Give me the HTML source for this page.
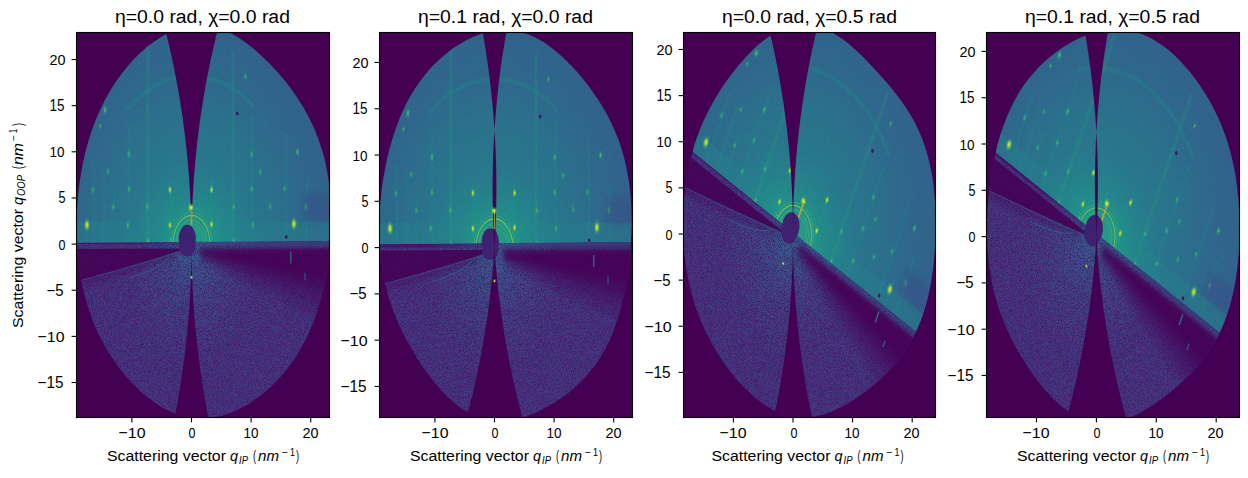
<!DOCTYPE html><html><head><meta charset="utf-8"><style>html,body{margin:0;padding:0;background:#fff;overflow:hidden;}svg{display:block;}text{font-family:"Liberation Sans",sans-serif;fill:#000;}</style></head><body>
<svg width="1248" height="478" viewBox="0 0 1248 478">
<rect width="1248" height="478" fill="#fff"/>
<defs><clipPath id="ax0"><rect x="77" y="33" width="252" height="384"/></clipPath><clipPath id="cov0"><path d="M76.6,223.7 C76.7,219.4 76.8,215.2 77.0,211.0 C77.2,206.8 77.5,202.6 77.9,198.4 C78.2,194.3 78.7,190.1 79.2,186.0 C79.7,181.9 80.3,177.7 81.0,173.7 C81.7,169.6 82.5,165.5 83.3,161.5 C84.2,157.5 85.1,153.5 86.1,149.6 C87.1,145.7 88.2,141.8 89.4,138.0 C90.6,134.1 91.9,130.4 93.2,126.7 C94.6,123.0 96.0,119.3 97.5,115.8 C99.0,112.3 100.6,108.8 102.3,105.4 C103.9,102.0 105.7,98.7 107.5,95.5 C109.3,92.2 111.2,89.1 113.1,86.1 C115.0,83.0 117.0,80.1 119.1,77.2 C121.2,74.4 123.3,71.6 125.5,68.9 C127.6,66.3 129.8,63.7 132.1,61.2 C134.4,58.7 136.7,56.4 139.1,54.1 C141.5,51.8 143.9,49.7 146.3,47.6 C148.8,45.5 151.3,43.6 153.9,41.8 C156.4,40.0 159.0,38.3 161.7,36.7 C164.3,35.2 167.0,33.8 169.7,32.5 C172.4,31.3 175.1,30.2 177.9,29.2 C180.6,28.3 183.4,27.5 186.2,27.0 C189.0,26.4 191.9,26.0 194.7,25.8 C197.5,25.6 200.4,25.6 203.2,25.8 C206.0,25.9 208.9,26.3 211.7,26.8 C214.4,27.4 217.2,28.1 220.0,29.0 C222.7,29.9 225.4,31.0 228.1,32.2 C230.8,33.4 233.5,34.8 236.1,36.3 C238.7,37.8 241.2,39.5 243.8,41.2 C246.3,43.0 248.7,44.8 251.2,46.8 C253.6,48.7 256.0,50.8 258.4,52.9 C260.7,54.9 263.0,57.1 265.3,59.4 C267.6,61.6 269.8,63.9 272.1,66.2 C274.3,68.6 276.5,71.0 278.6,73.5 C280.8,76.0 282.9,78.5 285.1,81.1 C287.2,83.7 289.2,86.4 291.3,89.2 C293.3,91.9 295.3,94.8 297.3,97.7 C299.2,100.6 301.1,103.6 303.0,106.7 C304.8,109.8 306.6,113.1 308.4,116.4 C310.1,119.7 311.7,123.1 313.3,126.6 C314.9,130.1 316.4,133.7 317.7,137.4 C319.1,141.1 320.4,144.9 321.6,148.8 C322.8,152.6 323.9,156.6 324.9,160.6 C325.8,164.6 326.7,168.7 327.4,172.8 C328.2,176.9 328.8,181.1 329.4,185.3 C329.9,189.5 330.3,193.8 330.7,198.0 C331.0,202.3 331.2,206.5 331.3,210.8 C331.5,215.1 331.5,219.4 331.4,223.7 C331.4,227.9 331.2,232.2 331.0,236.4 C330.7,240.7 330.4,244.9 330.0,249.1 C329.6,253.4 329.1,257.6 328.5,261.7 C328.0,265.9 327.3,270.0 326.6,274.1 C325.8,278.2 325.0,282.3 324.1,286.3 C323.2,290.4 322.2,294.4 321.2,298.3 C320.1,302.2 319.0,306.1 317.7,309.9 C316.5,313.7 315.2,317.5 313.8,321.1 C312.4,324.8 310.9,328.4 309.3,331.9 C307.7,335.4 306.1,338.8 304.3,342.1 C302.6,345.5 300.8,348.7 298.9,351.8 C297.0,354.9 295.1,358.0 293.1,360.9 C291.1,363.8 289.0,366.6 286.9,369.3 C284.7,372.0 282.5,374.6 280.3,377.1 C278.1,379.6 275.8,382.0 273.5,384.2 C271.1,386.5 268.8,388.7 266.4,390.8 C264.0,392.8 261.5,394.8 259.1,396.6 C256.6,398.5 254.1,400.3 251.6,401.9 C249.0,403.6 246.5,405.1 243.9,406.6 C241.3,408.0 238.6,409.3 236.0,410.5 C233.3,411.7 230.7,412.8 228.0,413.8 C225.3,414.7 222.5,415.5 219.8,416.2 C217.1,416.8 214.3,417.4 211.5,417.7 C208.8,418.1 206.0,418.3 203.2,418.4 C200.4,418.4 197.6,418.3 194.9,418.1 C192.1,417.8 189.3,417.4 186.6,416.8 C183.8,416.2 181.1,415.4 178.3,414.5 C175.6,413.6 172.9,412.6 170.3,411.4 C167.6,410.2 165.0,408.8 162.4,407.4 C159.8,405.9 157.2,404.3 154.7,402.5 C152.2,400.8 149.7,398.9 147.2,397.0 C144.8,395.0 142.4,393.0 140.0,390.8 C137.6,388.6 135.3,386.4 133.0,384.0 C130.8,381.6 128.5,379.2 126.3,376.6 C124.1,374.1 122.0,371.4 119.9,368.7 C117.8,366.0 115.7,363.2 113.8,360.2 C111.8,357.3 109.8,354.3 107.9,351.2 C106.1,348.1 104.3,344.9 102.5,341.6 C100.8,338.4 99.1,335.0 97.5,331.5 C95.9,328.0 94.4,324.5 93.0,320.9 C91.5,317.2 90.2,313.5 88.9,309.7 C87.7,305.9 86.5,302.1 85.5,298.1 C84.4,294.2 83.4,290.2 82.5,286.2 C81.7,282.2 80.9,278.1 80.2,274.0 C79.6,269.8 79.0,265.7 78.5,261.5 C78.0,257.4 77.6,253.2 77.3,248.9 C77.1,244.7 76.9,240.5 76.7,236.3 C76.6,232.1 76.6,227.9 76.6,223.7Z"/></clipPath><clipPath id="qU0" clipPathUnits="userSpaceOnUse"><path d="M-40,0.075 L40,0.395 L40,40 L-40,40Z"/></clipPath><clipPath id="qL0" clipPathUnits="userSpaceOnUse"><path d="M-40,0.075 L40,0.395 L40,-40 L-40,-40Z"/></clipPath><radialGradient id="broadU0" gradientUnits="userSpaceOnUse" cx="0" cy="0" r="26"><stop offset="0" stop-color="#23898d" stop-opacity="1"/><stop offset="0.55" stop-color="#287a8e" stop-opacity="0.7"/><stop offset="1" stop-color="#30688d" stop-opacity="0"/></radialGradient><radialGradient id="glowU0" cx="0.5" cy="0.5" r="0.5"><stop offset="0" stop-color="#22a784" stop-opacity="1"/><stop offset="0.3" stop-color="#219989" stop-opacity="0.9"/><stop offset="0.65" stop-color="#228b8c" stop-opacity="0.55"/><stop offset="1" stop-color="#25828d" stop-opacity="0"/></radialGradient><radialGradient id="glowL0" gradientUnits="userSpaceOnUse" cx="0" cy="-1" r="12"><stop offset="0" stop-color="#345e8d" stop-opacity="1"/><stop offset="0.5" stop-color="#3e4888" stop-opacity="0.5"/><stop offset="1" stop-color="#423d83" stop-opacity="0"/></radialGradient><radialGradient id="spot0"><stop offset="0" stop-color="#fde724" stop-opacity="1"/><stop offset="0.3" stop-color="#bdde26" stop-opacity="0.9"/><stop offset="0.65" stop-color="#44be70" stop-opacity="0.4"/><stop offset="1" stop-color="#22a784" stop-opacity="0"/></radialGradient><radialGradient id="spotG0"><stop offset="0" stop-color="#79d151" stop-opacity="1"/><stop offset="0.3" stop-color="#44be70" stop-opacity="0.8"/><stop offset="0.65" stop-color="#22a784" stop-opacity="0.35"/><stop offset="1" stop-color="#20908c" stop-opacity="0"/></radialGradient><linearGradient id="rodg0" gradientUnits="objectBoundingBox" x1="0" y1="0" x2="0" y2="1"><stop offset="0" stop-color="#fff" stop-opacity="1"/><stop offset="1" stop-color="#fff" stop-opacity="0.2"/></linearGradient><filter id="blur0" x="-50%" y="-50%" width="200%" height="200%"><feGaussianBlur stdDeviation="0.35"/></filter><filter id="blurS0" x="-100%" y="-5%" width="300%" height="110%"><feGaussianBlur stdDeviation="0.2"/></filter><filter id="nz0" x="0" y="0" width="100%" height="100%" filterUnits="objectBoundingBox" color-interpolation-filters="sRGB"><feTurbulence type="fractalNoise" baseFrequency="1.3" numOctaves="1" seed="2" result="t"/><feColorMatrix in="t" type="matrix" values="0 0 0 0 0.22  0 0 0 0 0.37  0 0 0 0 0.55  2.4 0 0 0 -1.05" result="hi"/><feColorMatrix in="t" type="matrix" values="0 0 0 0 0.27  0 0 0 0 0.0  0 0 0 0 0.33  -2.4 0 0 0 1.3" result="lo"/><feMerge><feMergeNode in="lo"/><feMergeNode in="hi"/></feMerge></filter><radialGradient id="mg0" gradientUnits="userSpaceOnUse" cx="0" cy="-2" r="12"><stop offset="0" stop-color="#fff" stop-opacity="0.8"/><stop offset="1" stop-color="#fff" stop-opacity="0"/></radialGradient><mask id="lm0" maskUnits="userSpaceOnUse" x="76" y="32" width="253" height="385"><g transform="matrix(5.9600,0.0000,0.0000,-9.2290,191.5,244.1)"><g clip-path="url(#qL0)"><rect x="-40" y="-40" width="80" height="40" fill="#9c9c9c"/><ellipse cx="0" cy="-4" rx="17" ry="17" fill="url(#mg0)"/></g><rect x="-40" y="0" width="80" height="40" fill="#fff" opacity="0.12"/></g></mask><clipPath id="ax1"><rect x="380" y="33" width="252" height="384"/></clipPath><clipPath id="cov1"><path d="M379.2,225.0 C379.3,220.8 379.4,216.6 379.7,212.4 C379.9,208.3 380.2,204.1 380.6,200.0 C381.0,195.9 381.5,191.7 382.0,187.6 C382.6,183.5 383.2,179.5 383.9,175.4 C384.6,171.4 385.3,167.4 386.2,163.4 C387.0,159.4 387.9,155.5 388.9,151.6 C389.9,147.6 391.0,143.8 392.1,139.9 C393.2,136.1 394.5,132.4 395.8,128.7 C397.1,125.0 398.5,121.3 399.9,117.8 C401.4,114.2 402.9,110.7 404.6,107.3 C406.2,103.9 407.9,100.6 409.7,97.4 C411.5,94.2 413.4,91.1 415.4,88.1 C417.3,85.1 419.3,82.2 421.4,79.4 C423.5,76.6 425.6,73.9 427.8,71.4 C430.0,68.8 432.3,66.4 434.6,64.0 C436.9,61.7 439.2,59.5 441.6,57.4 C444.0,55.3 446.5,53.3 448.9,51.4 C451.4,49.5 453.9,47.7 456.5,46.1 C459.0,44.4 461.6,42.8 464.2,41.4 C466.8,40.0 469.4,38.6 472.1,37.5 C474.8,36.3 477.5,35.2 480.2,34.3 C482.9,33.4 485.6,32.6 488.4,31.9 C491.1,31.3 493.9,30.8 496.6,30.5 C499.4,30.2 502.2,30.0 505.0,30.1 C507.8,30.1 510.6,30.3 513.3,30.7 C516.1,31.1 518.9,31.6 521.6,32.4 C524.3,33.1 527.1,34.0 529.7,35.1 C532.4,36.1 535.1,37.4 537.7,38.8 C540.3,40.1 542.8,41.7 545.4,43.3 C547.9,45.0 550.4,46.8 552.8,48.7 C555.2,50.6 557.6,52.6 560.0,54.7 C562.3,56.8 564.6,59.0 566.9,61.2 C569.2,63.5 571.4,65.8 573.6,68.2 C575.8,70.6 578.0,73.0 580.1,75.5 C582.2,78.1 584.3,80.6 586.4,83.3 C588.4,85.9 590.4,88.6 592.4,91.4 C594.4,94.2 596.4,97.1 598.3,100.0 C600.2,103.0 602.1,106.0 603.9,109.1 C605.7,112.2 607.5,115.4 609.2,118.7 C610.8,122.0 612.5,125.4 614.0,128.9 C615.5,132.4 617.0,135.9 618.4,139.6 C619.7,143.3 621.0,147.1 622.1,150.9 C623.3,154.7 624.3,158.7 625.3,162.7 C626.2,166.6 627.0,170.7 627.7,174.8 C628.5,178.8 629.1,183.0 629.6,187.2 C630.1,191.3 630.5,195.5 630.8,199.7 C631.1,203.9 631.3,208.1 631.4,212.3 C631.5,216.6 631.5,220.8 631.5,225.0 C631.4,229.2 631.3,233.4 631.1,237.6 C630.9,241.8 630.7,246.0 630.3,250.2 C630.0,254.4 629.6,258.6 629.1,262.7 C628.7,266.9 628.1,271.0 627.5,275.1 C626.9,279.3 626.2,283.4 625.5,287.5 C624.7,291.6 623.9,295.6 623.0,299.6 C622.0,303.6 621.0,307.6 619.9,311.6 C618.8,315.5 617.6,319.4 616.3,323.1 C615.0,326.9 613.6,330.7 612.1,334.3 C610.6,337.9 609.0,341.4 607.2,344.8 C605.5,348.2 603.7,351.6 601.9,354.7 C600.0,357.9 598.0,361.0 595.9,363.9 C593.9,366.8 591.7,369.6 589.5,372.2 C587.3,374.9 585.1,377.4 582.8,379.8 C580.5,382.2 578.1,384.5 575.7,386.6 C573.3,388.8 570.9,390.8 568.4,392.8 C566.0,394.7 563.5,396.5 561.0,398.3 C558.4,400.0 555.9,401.7 553.3,403.3 C550.8,404.8 548.2,406.3 545.6,407.7 C543.0,409.1 540.4,410.5 537.8,411.7 C535.1,412.9 532.4,414.1 529.8,415.1 C527.1,416.1 524.4,417.1 521.6,417.9 C518.9,418.7 516.1,419.4 513.4,419.9 C510.6,420.4 507.8,420.8 505.0,421.0 C502.2,421.2 499.4,421.2 496.6,421.1 C493.8,420.9 491.0,420.6 488.2,420.0 C485.4,419.5 482.6,418.8 479.9,417.9 C477.2,416.9 474.4,415.8 471.8,414.5 C469.1,413.2 466.4,411.7 463.9,410.1 C461.3,408.4 458.8,406.6 456.3,404.6 C453.8,402.7 451.4,400.5 449.0,398.3 C446.7,396.1 444.4,393.7 442.1,391.3 C439.9,388.9 437.7,386.4 435.6,383.8 C433.4,381.2 431.3,378.5 429.3,375.8 C427.2,373.0 425.2,370.2 423.3,367.4 C421.3,364.5 419.4,361.6 417.5,358.7 C415.6,355.7 413.8,352.7 411.9,349.6 C410.1,346.6 408.4,343.5 406.7,340.3 C404.9,337.1 403.3,333.8 401.7,330.5 C400.1,327.1 398.5,323.7 397.0,320.2 C395.5,316.8 394.1,313.2 392.8,309.6 C391.4,305.9 390.2,302.2 389.0,298.4 C387.8,294.6 386.8,290.7 385.8,286.8 C384.8,282.9 384.0,278.9 383.2,274.9 C382.5,270.8 381.8,266.7 381.3,262.6 C380.7,258.5 380.3,254.3 380.0,250.1 C379.6,246.0 379.4,241.8 379.3,237.6 C379.2,233.4 379.1,229.2 379.2,225.0Z"/></clipPath><clipPath id="qU1" clipPathUnits="userSpaceOnUse"><path d="M-40,0.230 L40,0.710 L40,40 L-40,40Z"/></clipPath><clipPath id="qL1" clipPathUnits="userSpaceOnUse"><path d="M-40,0.230 L40,0.710 L40,-40 L-40,-40Z"/></clipPath><radialGradient id="broadU1" gradientUnits="userSpaceOnUse" cx="0" cy="0" r="26"><stop offset="0" stop-color="#23898d" stop-opacity="1"/><stop offset="0.55" stop-color="#287a8e" stop-opacity="0.7"/><stop offset="1" stop-color="#30688d" stop-opacity="0"/></radialGradient><radialGradient id="glowU1" cx="0.5" cy="0.5" r="0.5"><stop offset="0" stop-color="#22a784" stop-opacity="1"/><stop offset="0.3" stop-color="#219989" stop-opacity="0.9"/><stop offset="0.65" stop-color="#228b8c" stop-opacity="0.55"/><stop offset="1" stop-color="#25828d" stop-opacity="0"/></radialGradient><radialGradient id="glowL1" gradientUnits="userSpaceOnUse" cx="0" cy="-1" r="12"><stop offset="0" stop-color="#345e8d" stop-opacity="1"/><stop offset="0.5" stop-color="#3e4888" stop-opacity="0.5"/><stop offset="1" stop-color="#423d83" stop-opacity="0"/></radialGradient><radialGradient id="spot1"><stop offset="0" stop-color="#fde724" stop-opacity="1"/><stop offset="0.3" stop-color="#bdde26" stop-opacity="0.9"/><stop offset="0.65" stop-color="#44be70" stop-opacity="0.4"/><stop offset="1" stop-color="#22a784" stop-opacity="0"/></radialGradient><radialGradient id="spotG1"><stop offset="0" stop-color="#79d151" stop-opacity="1"/><stop offset="0.3" stop-color="#44be70" stop-opacity="0.8"/><stop offset="0.65" stop-color="#22a784" stop-opacity="0.35"/><stop offset="1" stop-color="#20908c" stop-opacity="0"/></radialGradient><linearGradient id="rodg1" gradientUnits="objectBoundingBox" x1="0" y1="0" x2="0" y2="1"><stop offset="0" stop-color="#fff" stop-opacity="1"/><stop offset="1" stop-color="#fff" stop-opacity="0.2"/></linearGradient><filter id="blur1" x="-50%" y="-50%" width="200%" height="200%"><feGaussianBlur stdDeviation="0.35"/></filter><filter id="blurS1" x="-100%" y="-5%" width="300%" height="110%"><feGaussianBlur stdDeviation="0.2"/></filter><filter id="nz1" x="0" y="0" width="100%" height="100%" filterUnits="objectBoundingBox" color-interpolation-filters="sRGB"><feTurbulence type="fractalNoise" baseFrequency="1.3" numOctaves="1" seed="3" result="t"/><feColorMatrix in="t" type="matrix" values="0 0 0 0 0.22  0 0 0 0 0.37  0 0 0 0 0.55  2.4 0 0 0 -1.05" result="hi"/><feColorMatrix in="t" type="matrix" values="0 0 0 0 0.27  0 0 0 0 0.0  0 0 0 0 0.33  -2.4 0 0 0 1.3" result="lo"/><feMerge><feMergeNode in="lo"/><feMergeNode in="hi"/></feMerge></filter><radialGradient id="mg1" gradientUnits="userSpaceOnUse" cx="0" cy="-2" r="12"><stop offset="0" stop-color="#fff" stop-opacity="0.8"/><stop offset="1" stop-color="#fff" stop-opacity="0"/></radialGradient><mask id="lm1" maskUnits="userSpaceOnUse" x="379" y="32" width="253" height="385"><g transform="matrix(5.9600,0.0000,0.0000,-9.2570,494.5,247.6)"><g clip-path="url(#qL1)"><rect x="-40" y="-40" width="80" height="40" fill="#9c9c9c"/><ellipse cx="0" cy="-4" rx="17" ry="17" fill="url(#mg1)"/></g><rect x="-40" y="0" width="80" height="40" fill="#fff" opacity="0.12"/></g></mask><clipPath id="ax2"><rect x="684" y="33" width="251" height="384"/></clipPath><clipPath id="cov2"><path d="M683.1,223.5 C683.2,219.4 683.3,215.2 683.5,211.1 C683.7,207.0 683.9,202.8 684.3,198.7 C684.7,194.6 685.1,190.5 685.6,186.5 C686.2,182.4 686.8,178.3 687.5,174.3 C688.2,170.4 689.0,166.4 689.9,162.5 C690.8,158.6 691.8,154.7 692.9,150.9 C693.9,147.1 695.1,143.3 696.3,139.6 C697.6,135.9 698.9,132.3 700.3,128.8 C701.7,125.2 703.2,121.8 704.8,118.4 C706.4,115.0 708.0,111.6 709.7,108.4 C711.4,105.2 713.2,102.0 715.0,98.9 C716.8,95.8 718.6,92.8 720.5,89.9 C722.4,86.9 724.4,84.0 726.4,81.2 C728.4,78.4 730.5,75.6 732.5,72.9 C734.6,70.2 736.7,67.5 738.9,64.9 C741.1,62.3 743.3,59.8 745.6,57.4 C747.8,54.9 750.1,52.5 752.5,50.2 C754.9,47.9 757.3,45.7 759.8,43.6 C762.3,41.5 764.8,39.5 767.4,37.7 C770.0,35.9 772.6,34.2 775.3,32.7 C778.0,31.2 780.8,29.9 783.5,28.8 C786.3,27.7 789.2,26.8 792.0,26.1 C794.8,25.5 797.7,25.0 800.6,24.8 C803.5,24.7 806.4,24.7 809.2,25.0 C812.1,25.3 815.0,25.9 817.8,26.6 C820.6,27.4 823.5,28.4 826.2,29.6 C828.9,30.7 831.7,32.2 834.3,33.7 C837.0,35.2 839.6,37.0 842.1,38.8 C844.6,40.6 847.1,42.6 849.5,44.6 C852.0,46.7 854.3,48.8 856.7,51.0 C859.0,53.1 861.3,55.4 863.5,57.6 C865.8,59.9 868.0,62.2 870.2,64.5 C872.4,66.8 874.5,69.1 876.7,71.4 C878.8,73.8 881.0,76.1 883.1,78.5 C885.2,80.9 887.3,83.3 889.4,85.8 C891.5,88.3 893.6,90.8 895.6,93.4 C897.7,96.0 899.7,98.6 901.7,101.4 C903.7,104.1 905.6,107.0 907.5,109.9 C909.4,112.9 911.2,115.9 913.0,119.1 C914.7,122.3 916.4,125.6 917.9,129.0 C919.5,132.3 921.0,135.9 922.4,139.4 C923.8,143.0 925.0,146.8 926.2,150.5 C927.3,154.3 928.4,158.2 929.3,162.1 C930.2,166.0 931.0,170.0 931.8,174.1 C932.5,178.1 933.1,182.2 933.6,186.2 C934.1,190.3 934.5,194.5 934.8,198.6 C935.1,202.7 935.3,206.9 935.5,211.0 C935.6,215.2 935.7,219.3 935.7,223.5 C935.7,227.7 935.7,231.8 935.5,236.0 C935.4,240.1 935.2,244.3 934.9,248.4 C934.6,252.6 934.3,256.7 933.9,260.9 C933.5,265.0 933.0,269.1 932.4,273.2 C931.8,277.3 931.1,281.4 930.4,285.4 C929.6,289.5 928.8,293.5 927.8,297.5 C926.8,301.4 925.8,305.4 924.6,309.2 C923.4,313.0 922.1,316.8 920.7,320.4 C919.3,324.1 917.8,327.7 916.2,331.1 C914.6,334.6 912.8,337.9 911.0,341.2 C909.2,344.4 907.3,347.5 905.4,350.5 C903.4,353.5 901.3,356.3 899.2,359.0 C897.1,361.7 894.9,364.3 892.7,366.8 C890.5,369.3 888.2,371.7 885.9,374.0 C883.6,376.3 881.3,378.5 878.9,380.6 C876.6,382.7 874.2,384.7 871.8,386.6 C869.4,388.6 866.9,390.5 864.5,392.3 C862.1,394.1 859.6,395.8 857.1,397.5 C854.6,399.2 852.1,400.9 849.6,402.4 C847.0,403.9 844.5,405.4 841.9,406.8 C839.2,408.2 836.6,409.5 834.0,410.7 C831.3,411.8 828.6,412.9 825.9,413.8 C823.2,414.7 820.4,415.5 817.6,416.1 C814.9,416.7 812.1,417.2 809.2,417.4 C806.4,417.7 803.6,417.8 800.8,417.6 C798.0,417.5 795.2,417.2 792.4,416.7 C789.6,416.2 786.8,415.5 784.0,414.6 C781.3,413.7 778.5,412.6 775.9,411.3 C773.2,410.0 770.5,408.6 767.9,407.0 C765.3,405.4 762.7,403.7 760.2,401.8 C757.7,399.9 755.3,397.9 752.9,395.8 C750.4,393.7 748.1,391.4 745.8,389.1 C743.5,386.8 741.2,384.4 739.0,381.9 C736.8,379.4 734.6,376.9 732.5,374.2 C730.4,371.6 728.3,368.9 726.3,366.1 C724.2,363.3 722.2,360.4 720.3,357.5 C718.4,354.6 716.5,351.6 714.7,348.5 C712.8,345.4 711.1,342.2 709.4,339.0 C707.6,335.8 706.0,332.4 704.4,329.0 C702.8,325.6 701.3,322.2 699.9,318.6 C698.5,315.0 697.2,311.4 695.9,307.7 C694.7,304.0 693.5,300.2 692.4,296.4 C691.3,292.6 690.4,288.7 689.5,284.8 C688.6,280.8 687.8,276.8 687.1,272.8 C686.4,268.8 685.8,264.7 685.3,260.6 C684.8,256.6 684.4,252.4 684.1,248.3 C683.7,244.2 683.5,240.1 683.4,235.9 C683.2,231.8 683.1,227.6 683.1,223.5Z"/></clipPath><clipPath id="qU2" clipPathUnits="userSpaceOnUse"><path d="M-40,0.140 L40,0.140 L40,40 L-40,40Z"/></clipPath><clipPath id="qL2" clipPathUnits="userSpaceOnUse"><path d="M-40,0.140 L40,0.140 L40,-40 L-40,-40Z"/></clipPath><radialGradient id="broadU2" gradientUnits="userSpaceOnUse" cx="0" cy="0" r="26"><stop offset="0" stop-color="#23898d" stop-opacity="1"/><stop offset="0.55" stop-color="#287a8e" stop-opacity="0.7"/><stop offset="1" stop-color="#30688d" stop-opacity="0"/></radialGradient><radialGradient id="glowU2" cx="0.5" cy="0.5" r="0.5"><stop offset="0" stop-color="#22a784" stop-opacity="1"/><stop offset="0.3" stop-color="#219989" stop-opacity="0.9"/><stop offset="0.65" stop-color="#228b8c" stop-opacity="0.55"/><stop offset="1" stop-color="#25828d" stop-opacity="0"/></radialGradient><radialGradient id="glowL2" gradientUnits="userSpaceOnUse" cx="0" cy="-1" r="12"><stop offset="0" stop-color="#345e8d" stop-opacity="1"/><stop offset="0.5" stop-color="#3e4888" stop-opacity="0.5"/><stop offset="1" stop-color="#423d83" stop-opacity="0"/></radialGradient><radialGradient id="spot2"><stop offset="0" stop-color="#fde724" stop-opacity="1"/><stop offset="0.3" stop-color="#bdde26" stop-opacity="0.9"/><stop offset="0.65" stop-color="#44be70" stop-opacity="0.4"/><stop offset="1" stop-color="#22a784" stop-opacity="0"/></radialGradient><radialGradient id="spotG2"><stop offset="0" stop-color="#79d151" stop-opacity="1"/><stop offset="0.3" stop-color="#44be70" stop-opacity="0.8"/><stop offset="0.65" stop-color="#22a784" stop-opacity="0.35"/><stop offset="1" stop-color="#20908c" stop-opacity="0"/></radialGradient><linearGradient id="rodg2" gradientUnits="objectBoundingBox" x1="0" y1="0" x2="0" y2="1"><stop offset="0" stop-color="#fff" stop-opacity="1"/><stop offset="1" stop-color="#fff" stop-opacity="0.2"/></linearGradient><filter id="blur2" x="-50%" y="-50%" width="200%" height="200%"><feGaussianBlur stdDeviation="0.35"/></filter><filter id="blurS2" x="-100%" y="-5%" width="300%" height="110%"><feGaussianBlur stdDeviation="0.2"/></filter><filter id="nz2" x="0" y="0" width="100%" height="100%" filterUnits="objectBoundingBox" color-interpolation-filters="sRGB"><feTurbulence type="fractalNoise" baseFrequency="1.3" numOctaves="1" seed="4" result="t"/><feColorMatrix in="t" type="matrix" values="0 0 0 0 0.22  0 0 0 0 0.37  0 0 0 0 0.55  2.4 0 0 0 -1.05" result="hi"/><feColorMatrix in="t" type="matrix" values="0 0 0 0 0.27  0 0 0 0 0.0  0 0 0 0 0.33  -2.4 0 0 0 1.3" result="lo"/><feMerge><feMergeNode in="lo"/><feMergeNode in="hi"/></feMerge></filter><radialGradient id="mg2" gradientUnits="userSpaceOnUse" cx="0" cy="-2" r="12"><stop offset="0" stop-color="#fff" stop-opacity="0.8"/><stop offset="1" stop-color="#fff" stop-opacity="0"/></radialGradient><mask id="lm2" maskUnits="userSpaceOnUse" x="683" y="32" width="252" height="385"><g transform="matrix(5.2865,4.2604,2.7522,-8.1834,793.0,234.0)"><g clip-path="url(#qL2)"><rect x="-40" y="-40" width="80" height="40" fill="#9c9c9c"/><ellipse cx="0" cy="-4" rx="17" ry="17" fill="url(#mg2)"/></g><rect x="-40" y="0" width="80" height="40" fill="#fff" opacity="0.12"/></g></mask><clipPath id="ax3"><rect x="987" y="33" width="252" height="384"/></clipPath><clipPath id="cov3"><path d="M987.0,224.2 C987.1,220.0 987.2,215.8 987.5,211.6 C987.7,207.4 988.0,203.3 988.4,199.1 C988.7,195.0 989.2,190.8 989.7,186.7 C990.2,182.6 990.7,178.5 991.4,174.4 C992.1,170.4 992.8,166.3 993.6,162.3 C994.4,158.3 995.2,154.3 996.2,150.3 C997.2,146.4 998.2,142.4 999.3,138.6 C1000.5,134.7 1001.7,130.9 1003.0,127.2 C1004.3,123.4 1005.7,119.8 1007.2,116.2 C1008.7,112.6 1010.3,109.1 1012.0,105.7 C1013.6,102.3 1015.4,99.0 1017.3,95.8 C1019.1,92.7 1021.0,89.6 1023.0,86.6 C1025.1,83.7 1027.1,80.8 1029.3,78.1 C1031.4,75.4 1033.7,72.8 1035.9,70.4 C1038.2,67.9 1040.5,65.5 1042.8,63.3 C1045.2,61.0 1047.6,58.9 1050.0,56.9 C1052.5,54.9 1055.0,53.0 1057.5,51.2 C1060.0,49.3 1062.5,47.6 1065.1,46.0 C1067.6,44.4 1070.2,42.9 1072.8,41.5 C1075.4,40.1 1078.1,38.8 1080.8,37.6 C1083.4,36.4 1086.1,35.3 1088.8,34.4 C1091.5,33.4 1094.3,32.6 1097.0,31.9 C1099.8,31.2 1102.5,30.6 1105.3,30.2 C1108.1,29.8 1110.9,29.5 1113.7,29.4 C1116.5,29.3 1119.3,29.4 1122.1,29.6 C1124.9,29.8 1127.7,30.2 1130.5,30.8 C1133.3,31.4 1136.0,32.1 1138.8,33.0 C1141.5,34.0 1144.2,35.0 1146.9,36.3 C1149.6,37.5 1152.2,38.9 1154.8,40.5 C1157.4,42.0 1160.0,43.7 1162.5,45.5 C1165.0,47.3 1167.5,49.3 1169.9,51.3 C1172.3,53.4 1174.7,55.6 1177.0,57.8 C1179.3,60.1 1181.6,62.5 1183.8,65.0 C1186.0,67.4 1188.2,70.0 1190.4,72.6 C1192.5,75.2 1194.6,77.9 1196.6,80.7 C1198.6,83.5 1200.6,86.4 1202.5,89.4 C1204.5,92.3 1206.4,95.3 1208.2,98.5 C1210.0,101.6 1211.8,104.8 1213.4,108.0 C1215.1,111.3 1216.8,114.7 1218.3,118.1 C1219.9,121.5 1221.3,125.1 1222.7,128.7 C1224.1,132.2 1225.4,135.9 1226.7,139.6 C1227.9,143.4 1229.0,147.2 1230.1,151.0 C1231.1,154.9 1232.1,158.8 1233.0,162.7 C1233.8,166.7 1234.6,170.7 1235.3,174.7 C1236.0,178.8 1236.6,182.8 1237.1,186.9 C1237.6,191.0 1238.0,195.1 1238.4,199.2 C1238.7,203.4 1239.0,207.5 1239.2,211.7 C1239.4,215.8 1239.5,220.0 1239.6,224.2 C1239.6,228.3 1239.6,232.5 1239.5,236.7 C1239.4,240.8 1239.2,245.0 1239.0,249.2 C1238.7,253.3 1238.4,257.5 1238.0,261.6 C1237.6,265.8 1237.1,269.9 1236.5,274.1 C1235.9,278.2 1235.2,282.3 1234.4,286.3 C1233.6,290.4 1232.8,294.4 1231.8,298.3 C1230.8,302.3 1229.7,306.2 1228.5,310.0 C1227.3,313.8 1226.0,317.6 1224.5,321.2 C1223.1,324.9 1221.6,328.4 1220.0,331.9 C1218.3,335.3 1216.6,338.7 1214.8,341.9 C1213.0,345.1 1211.1,348.2 1209.1,351.1 C1207.2,354.1 1205.1,356.9 1203.0,359.6 C1200.9,362.4 1198.7,365.0 1196.5,367.5 C1194.4,370.0 1192.1,372.4 1189.8,374.7 C1187.6,377.0 1185.2,379.2 1182.9,381.3 C1180.6,383.5 1178.2,385.5 1175.9,387.5 C1173.5,389.5 1171.1,391.5 1168.7,393.4 C1166.3,395.3 1163.9,397.1 1161.4,398.9 C1159.0,400.8 1156.5,402.5 1154.0,404.2 C1151.5,405.9 1148.9,407.5 1146.4,409.1 C1143.8,410.7 1141.2,412.2 1138.5,413.5 C1135.9,414.9 1133.2,416.2 1130.5,417.3 C1127.7,418.4 1125.0,419.5 1122.2,420.3 C1119.4,421.1 1116.5,421.8 1113.7,422.2 C1110.9,422.7 1108.0,423.0 1105.1,423.1 C1102.2,423.1 1099.3,423.0 1096.5,422.6 C1093.6,422.2 1090.7,421.6 1087.9,420.8 C1085.1,419.9 1082.3,418.9 1079.5,417.6 C1076.8,416.4 1074.0,414.9 1071.4,413.3 C1068.7,411.7 1066.1,409.8 1063.5,407.8 C1061.0,405.9 1058.5,403.7 1056.1,401.4 C1053.6,399.2 1051.3,396.8 1049.0,394.3 C1046.6,391.8 1044.4,389.2 1042.2,386.5 C1040.0,383.8 1037.8,381.1 1035.8,378.3 C1033.7,375.5 1031.6,372.6 1029.6,369.6 C1027.6,366.7 1025.7,363.7 1023.8,360.6 C1021.8,357.5 1020.0,354.4 1018.2,351.2 C1016.4,348.1 1014.6,344.8 1012.9,341.5 C1011.2,338.2 1009.5,334.8 1008.0,331.3 C1006.4,327.9 1004.8,324.4 1003.4,320.8 C1002.0,317.1 1000.6,313.5 999.3,309.7 C998.1,306.0 996.9,302.1 995.8,298.2 C994.7,294.4 993.7,290.4 992.8,286.4 C991.9,282.4 991.2,278.3 990.5,274.2 C989.8,270.2 989.2,266.0 988.7,261.9 C988.3,257.7 987.9,253.5 987.6,249.3 C987.3,245.2 987.1,240.9 987.0,236.7 C986.9,232.5 986.9,228.3 987.0,224.2Z"/></clipPath><clipPath id="qU3" clipPathUnits="userSpaceOnUse"><path d="M-40,0.300 L40,0.300 L40,40 L-40,40Z"/></clipPath><clipPath id="qL3" clipPathUnits="userSpaceOnUse"><path d="M-40,0.300 L40,0.300 L40,-40 L-40,-40Z"/></clipPath><radialGradient id="broadU3" gradientUnits="userSpaceOnUse" cx="0" cy="0" r="26"><stop offset="0" stop-color="#23898d" stop-opacity="1"/><stop offset="0.55" stop-color="#287a8e" stop-opacity="0.7"/><stop offset="1" stop-color="#30688d" stop-opacity="0"/></radialGradient><radialGradient id="glowU3" cx="0.5" cy="0.5" r="0.5"><stop offset="0" stop-color="#22a784" stop-opacity="1"/><stop offset="0.3" stop-color="#219989" stop-opacity="0.9"/><stop offset="0.65" stop-color="#228b8c" stop-opacity="0.55"/><stop offset="1" stop-color="#25828d" stop-opacity="0"/></radialGradient><radialGradient id="glowL3" gradientUnits="userSpaceOnUse" cx="0" cy="-1" r="12"><stop offset="0" stop-color="#345e8d" stop-opacity="1"/><stop offset="0.5" stop-color="#3e4888" stop-opacity="0.5"/><stop offset="1" stop-color="#423d83" stop-opacity="0"/></radialGradient><radialGradient id="spot3"><stop offset="0" stop-color="#fde724" stop-opacity="1"/><stop offset="0.3" stop-color="#bdde26" stop-opacity="0.9"/><stop offset="0.65" stop-color="#44be70" stop-opacity="0.4"/><stop offset="1" stop-color="#22a784" stop-opacity="0"/></radialGradient><radialGradient id="spotG3"><stop offset="0" stop-color="#79d151" stop-opacity="1"/><stop offset="0.3" stop-color="#44be70" stop-opacity="0.8"/><stop offset="0.65" stop-color="#22a784" stop-opacity="0.35"/><stop offset="1" stop-color="#20908c" stop-opacity="0"/></radialGradient><linearGradient id="rodg3" gradientUnits="objectBoundingBox" x1="0" y1="0" x2="0" y2="1"><stop offset="0" stop-color="#fff" stop-opacity="1"/><stop offset="1" stop-color="#fff" stop-opacity="0.2"/></linearGradient><filter id="blur3" x="-50%" y="-50%" width="200%" height="200%"><feGaussianBlur stdDeviation="0.35"/></filter><filter id="blurS3" x="-100%" y="-5%" width="300%" height="110%"><feGaussianBlur stdDeviation="0.2"/></filter><filter id="nz3" x="0" y="0" width="100%" height="100%" filterUnits="objectBoundingBox" color-interpolation-filters="sRGB"><feTurbulence type="fractalNoise" baseFrequency="1.3" numOctaves="1" seed="5" result="t"/><feColorMatrix in="t" type="matrix" values="0 0 0 0 0.22  0 0 0 0 0.37  0 0 0 0 0.55  2.4 0 0 0 -1.05" result="hi"/><feColorMatrix in="t" type="matrix" values="0 0 0 0 0.27  0 0 0 0 0.0  0 0 0 0 0.33  -2.4 0 0 0 1.3" result="lo"/><feMerge><feMergeNode in="lo"/><feMergeNode in="hi"/></feMerge></filter><radialGradient id="mg3" gradientUnits="userSpaceOnUse" cx="0" cy="-2" r="12"><stop offset="0" stop-color="#fff" stop-opacity="0.8"/><stop offset="1" stop-color="#fff" stop-opacity="0"/></radialGradient><mask id="lm3" maskUnits="userSpaceOnUse" x="986" y="32" width="253" height="385"><g transform="matrix(5.3131,4.2761,2.7661,-8.2136,1096.4,236.6)"><g clip-path="url(#qL3)"><rect x="-40" y="-40" width="80" height="40" fill="#9c9c9c"/><ellipse cx="0" cy="-4" rx="17" ry="17" fill="url(#mg3)"/></g><rect x="-40" y="0" width="80" height="40" fill="#fff" opacity="0.12"/></g></mask></defs>
<rect x="76" y="32" width="253" height="385" fill="#440154"/>
<g clip-path="url(#ax0)"><g clip-path="url(#cov0)"><g transform="matrix(5.9600,0.0000,0.0000,-9.2290,191.5,244.1)"><g clip-path="url(#qU0)"><rect x="-40" y="0" width="80" height="40" fill="#31648d"/><circle cx="0" cy="0" r="26" fill="url(#broadU0)"/><rect x="-40" y="0" width="80" height="2.44" fill="#25828d" opacity="0.45"/><ellipse cx="0" cy="0" rx="12" ry="9" fill="url(#glowU0)" transform="scale(1)" /><rect x="-7.47" y="0" width="0.24" height="23" fill="#29ac80" opacity="0.5" filter="url(#blurS0)"/><rect x="6.88" y="0" width="0.24" height="21" fill="#29ac80" opacity="0.5" filter="url(#blurS0)"/><rect x="-16.50" y="0" width="0.21" height="9" fill="#219989" opacity="0.5" filter="url(#blurS0)"/><rect x="-14.80" y="0" width="0.21" height="8" fill="#219989" opacity="0.5" filter="url(#blurS0)"/><rect x="15.79" y="0" width="0.21" height="12" fill="#219989" opacity="0.5" filter="url(#blurS0)"/><rect x="-10.61" y="0" width="0.21" height="13" fill="#21978a" opacity="0.5" filter="url(#blurS0)"/><rect x="10.09" y="0" width="0.21" height="14" fill="#21978a" opacity="0.5" filter="url(#blurS0)"/><rect x="-3.60" y="0" width="0.21" height="7" fill="#21a086" opacity="0.5" filter="url(#blurS0)"/><rect x="3.29" y="0" width="0.21" height="7" fill="#21a086" opacity="0.5" filter="url(#blurS0)"/><rect x="19.20" y="0" width="0.21" height="7" fill="#21978a" opacity="0.5" filter="url(#blurS0)"/><rect x="-12.99" y="0" width="0.17" height="6" fill="#21978a" opacity="0.5" filter="url(#blurS0)"/><path d="M-2.2,0 A2.2,2.2 0 0 0 2.2,0" fill="none" stroke="#4fc26a" stroke-width="0.1" opacity="0.5"/><path d="M-2.6,0 A2.6,2.6 0 0 0 2.6,0" fill="none" stroke="#64c95d" stroke-width="0.1" opacity="0.6"/><path d="M-3.1,0 A3.1,3.1 0 0 0 3.1,0" fill="none" stroke="#94d640" stroke-width="0.12" opacity="0.9"/><path d="M-3.45,0 A3.45,3.45 0 0 0 3.45,0" fill="none" stroke="#44be70" stroke-width="0.09" opacity="0.65"/><path d="M-3.9,0 A3.9,3.9 0 0 0 3.9,0" fill="none" stroke="#29ac80" stroke-width="0.08" opacity="0.45"/><path d="M-11,14.5 A18.2,18.2 0 0 0 10.5,14.87" fill="none" stroke="#20908c" stroke-width="0.3" opacity="0.6" filter="url(#blurS0)"/><rect x="-0.12" y="2" width="0.24" height="2" fill="#e8b030" opacity="0.6"/><ellipse cx="-17.53" cy="2.07" rx="0.61" ry="0.85" fill="url(#spot0)" opacity="1.00"/><ellipse cx="-7.42" cy="4.06" rx="0.41" ry="0.57" fill="url(#spotG0)" opacity="0.72"/><ellipse cx="-7.27" cy="0.36" rx="0.41" ry="0.57" fill="url(#spotG0)" opacity="0.78"/><ellipse cx="-3.62" cy="5.89" rx="0.41" ry="0.57" fill="url(#spot0)" opacity="0.96"/><ellipse cx="-3.62" cy="2.06" rx="0.41" ry="0.57" fill="url(#spot0)" opacity="1.00"/><ellipse cx="-3.44" cy="0.49" rx="0.34" ry="0.47" fill="url(#spotG0)" opacity="0.72"/><ellipse cx="-10.49" cy="9.76" rx="0.47" ry="0.66" fill="url(#spotG0)" opacity="0.66"/><ellipse cx="-10.49" cy="5.97" rx="0.41" ry="0.57" fill="url(#spotG0)" opacity="0.66"/><ellipse cx="-10.69" cy="2.07" rx="0.41" ry="0.57" fill="url(#spotG0)" opacity="0.72"/><ellipse cx="-13.12" cy="4.02" rx="0.41" ry="0.57" fill="url(#spotG0)" opacity="0.60"/><ellipse cx="-16.54" cy="5.86" rx="0.41" ry="0.57" fill="url(#spotG0)" opacity="0.60"/><ellipse cx="-14.51" cy="14.53" rx="0.47" ry="0.66" fill="url(#spotG0)" opacity="0.84"/><ellipse cx="-0.18" cy="3.97" rx="0.47" ry="0.66" fill="url(#spot0)" opacity="1.00"/><ellipse cx="3.37" cy="5.89" rx="0.41" ry="0.57" fill="url(#spot0)" opacity="0.96"/><ellipse cx="3.37" cy="2.15" rx="0.41" ry="0.57" fill="url(#spot0)" opacity="1.00"/><ellipse cx="10.1" cy="9.75" rx="0.41" ry="0.57" fill="url(#spotG0)" opacity="0.66"/><ellipse cx="10.1" cy="5.97" rx="0.41" ry="0.57" fill="url(#spotG0)" opacity="0.66"/><ellipse cx="17.79" cy="9.97" rx="0.41" ry="0.57" fill="url(#spotG0)" opacity="0.84"/><ellipse cx="17.18" cy="2.19" rx="0.61" ry="0.85" fill="url(#spot0)" opacity="1.00"/><ellipse cx="19.19" cy="4.02" rx="0.47" ry="0.66" fill="url(#spotG0)" opacity="0.66"/><ellipse cx="7.08" cy="4.02" rx="0.41" ry="0.57" fill="url(#spotG0)" opacity="0.66"/><ellipse cx="10.3" cy="2.07" rx="0.41" ry="0.57" fill="url(#spotG0)" opacity="0.66"/><ellipse cx="7.08" cy="0.37" rx="0.41" ry="0.57" fill="url(#spotG0)" opacity="0.72"/><ellipse cx="9.03" cy="18.16" rx="0.34" ry="0.47" fill="url(#spotG0)" opacity="0.72"/><ellipse cx="11.53" cy="7.8" rx="0.41" ry="0.57" fill="url(#spotG0)" opacity="0.54"/><ellipse cx="-15.3" cy="12.8" rx="0.34" ry="0.47" fill="url(#spotG0)" opacity="0.66"/><ellipse cx="-14.0" cy="7.9" rx="0.41" ry="0.57" fill="url(#spotG0)" opacity="0.54"/><ellipse cx="13.2" cy="4.1" rx="0.41" ry="0.57" fill="url(#spotG0)" opacity="0.54"/><ellipse cx="15.6" cy="6.0" rx="0.41" ry="0.57" fill="url(#spotG0)" opacity="0.54"/><path d="M18.7,2.5 L24,2.5 L24,5.4 L18.7,5.4Z" fill="#3e4888" opacity="0.4" filter="url(#blur0)"/><circle cx="7.67" cy="14.15" r="0.22" fill="#440154" opacity="0.8"/><circle cx="15.9" cy="0.76" r="0.22" fill="#440154" opacity="0.8"/></g><g clip-path="url(#qL0)"><rect x="-40" y="-40" width="80" height="40" fill="#462d7a"/><ellipse cx="0" cy="-3" rx="10" ry="11" fill="url(#glowL0)"/><path d="M-40,0.075 L0,0.235 L0,-0.465 L-40,-0.625Z" fill="#462978" opacity="0.5"/><path d="M0,0.235 L40,0.395 L40,-0.505 L0,-0.515Z" fill="#36598c" opacity="0.7"/></g></g><rect x="76" y="32" width="253" height="385" filter="url(#nz0)" mask="url(#lm0)"/><g transform="matrix(5.9600,0.0000,0.0000,-9.2290,191.5,244.1)"><g clip-path="url(#qL0)"><path d="M-40,-0.625 L-1.2,-0.465 L-2.2,-0.8 L-18.5,-3.9 L-40,-6.5Z" fill="#440154" opacity="0.88"/><path d="M-2.2,-0.8 L-18.5,-3.9 L-40,-6.5 L-40,-7.5 L-18.5,-4.6 L-3,-1.6Z" fill="#440154" opacity="0.4" filter="url(#blur0)"/><g filter="url(#blur0)"><path d="M1.5,-0.46 L40,-0.30 L40,-6.40 L1.5,-1.01Z" fill="#440154" opacity="0.92"/><path d="M1.5,-1.01 L40,-6.40 L40,-8.60 L1.5,-1.29Z" fill="#440154" opacity="0.7"/><path d="M1.5,-1.29 L40,-8.60 L40,-11.20 L1.5,-1.57Z" fill="#440154" opacity="0.45"/><path d="M1.5,-1.57 L40,-11.20 L40,-13.90 L1.5,-1.96Z" fill="#440154" opacity="0.22"/></g><path d="M-18.5,-3.9 Q-8,-2.2 -2.2,-0.8" fill="none" stroke="#2b738e" stroke-width="0.09" opacity="0.6"/><path d="M-10.6,-3.7 Q-5,-2.6 -3.7,-1.4" fill="none" stroke="#277d8e" stroke-width="0.1" opacity="0.7"/><rect x="16.55" y="-2.1" width="0.22" height="1.3" fill="#24848d" opacity="0.8"/><rect x="18.95" y="-3.9" width="0.2" height="0.8" fill="#29788e" opacity="0.7"/></g><ellipse cx="-0.7" cy="0.55" rx="1.45" ry="1.55" fill="#3e2170"/><ellipse cx="-0.7" cy="-0.3" rx="1.35" ry="1.05" fill="#3e2170"/></g></g><path d="M164.57,27.00 L164.83,28.00 L165.09,29.00 L165.34,30.00 L165.59,31.00 L165.84,32.00 L166.09,33.00 L166.34,34.00 L166.59,35.00 L166.84,36.00 L167.08,37.00 L167.32,38.00 L167.57,39.00 L167.81,40.00 L168.05,41.00 L168.28,42.00 L168.52,43.00 L168.76,44.00 L168.99,45.00 L169.22,46.00 L169.45,47.00 L169.68,48.00 L169.91,49.00 L170.14,50.00 L170.37,51.00 L170.59,52.00 L170.81,53.00 L171.04,54.00 L171.26,55.00 L171.48,56.00 L171.69,57.00 L171.91,58.00 L172.13,59.00 L172.34,60.00 L172.55,61.00 L172.77,62.00 L172.98,63.00 L173.19,64.00 L173.39,65.00 L173.60,66.00 L173.81,67.00 L174.01,68.00 L174.21,69.00 L174.41,70.00 L174.61,71.00 L174.81,72.00 L175.01,73.00 L175.21,74.00 L175.40,75.00 L175.60,76.00 L175.79,77.00 L175.98,78.00 L176.17,79.00 L176.36,80.00 L176.55,81.00 L176.73,82.00 L176.92,83.00 L177.10,84.00 L177.29,85.00 L177.47,86.00 L177.65,87.00 L177.83,88.00 L178.01,89.00 L178.18,90.00 L178.36,91.00 L178.53,92.00 L178.70,93.00 L178.88,94.00 L179.05,95.00 L179.22,96.00 L179.38,97.00 L179.55,98.00 L179.72,99.00 L179.88,100.00 L180.04,101.00 L180.21,102.00 L180.37,103.00 L180.53,104.00 L180.68,105.00 L180.84,106.00 L181.00,107.00 L181.15,108.00 L181.31,109.00 L181.46,110.00 L181.61,111.00 L181.76,112.00 L181.91,113.00 L182.06,114.00 L182.20,115.00 L182.35,116.00 L182.49,117.00 L182.63,118.00 L182.78,119.00 L182.92,120.00 L183.06,121.00 L183.19,122.00 L183.33,123.00 L183.47,124.00 L183.60,125.00 L183.74,126.00 L183.87,127.00 L184.00,128.00 L184.13,129.00 L184.26,130.00 L184.39,131.00 L184.51,132.00 L184.64,133.00 L184.76,134.00 L184.88,135.00 L185.01,136.00 L185.13,137.00 L185.25,138.00 L185.36,139.00 L185.48,140.00 L185.60,141.00 L185.71,142.00 L185.83,143.00 L185.94,144.00 L186.05,145.00 L186.16,146.00 L186.27,147.00 L186.38,148.00 L186.48,149.00 L186.59,150.00 L186.69,151.00 L186.80,152.00 L186.90,153.00 L187.00,154.00 L187.10,155.00 L187.20,156.00 L187.30,157.00 L187.39,158.00 L187.49,159.00 L187.58,160.00 L187.68,161.00 L187.77,162.00 L187.86,163.00 L187.95,164.00 L188.04,165.00 L188.12,166.00 L188.21,167.00 L188.30,168.00 L188.38,169.00 L188.46,170.00 L188.54,171.00 L188.62,172.00 L188.70,173.00 L188.78,174.00 L188.86,175.00 L188.94,176.00 L189.01,177.00 L189.08,178.00 L189.16,179.00 L189.23,180.00 L189.30,181.00 L189.37,182.00 L189.44,183.00 L189.50,184.00 L189.57,185.00 L189.64,186.00 L189.70,187.00 L189.76,188.00 L189.82,189.00 L189.88,190.00 L189.94,191.00 L190.00,192.00 L190.06,193.00 L190.11,194.00 L190.17,195.00 L190.22,196.00 L190.28,197.00 L190.33,198.00 L190.38,199.00 L190.43,200.00 L190.48,201.00 L190.52,202.00 L190.57,203.00 L190.61,204.00 L190.66,205.00 L190.70,206.00 L190.74,207.00 L190.78,208.00 L190.82,209.00 L190.86,210.00 L190.90,211.00 L190.93,212.00 L190.97,213.00 L191.00,214.00 L191.03,215.00 L191.06,216.00 L191.10,217.00 L191.12,218.00 L191.15,219.00 L191.18,220.00 L191.21,221.00 L191.23,222.00 L191.25,223.00 L191.28,224.00 L191.30,225.00 L191.32,226.00 L191.34,227.00 L191.36,228.00 L191.37,229.00 L191.39,230.00 L191.41,231.00 L191.42,232.00 L191.43,233.00 L191.44,234.00 L191.45,235.00 L191.46,236.00 L191.47,237.00 L191.48,238.00 L191.49,239.00 L191.49,240.00 L191.49,241.00 L191.50,242.00 L191.50,243.00 L191.50,244.00 L191.50,245.00 L191.50,246.00 L191.50,247.00 L191.49,248.00 L191.49,249.00 L191.48,250.00 L191.47,251.00 L191.47,252.00 L191.46,253.00 L191.45,254.00 L191.43,255.00 L191.42,256.00 L191.41,257.00 L191.39,258.00 L191.38,259.00 L191.36,260.00 L191.34,261.00 L191.32,262.00 L191.30,263.00 L191.28,264.00 L191.26,265.00 L191.24,266.00 L191.21,267.00 L191.19,268.00 L191.16,269.00 L191.13,270.00 L191.10,271.00 L191.07,272.00 L191.04,273.00 L191.01,274.00 L190.97,275.00 L190.94,276.00 L190.90,277.00 L190.87,278.00 L190.83,279.00 L190.79,280.00 L190.75,281.00 L190.71,282.00 L190.67,283.00 L190.62,284.00 L190.58,285.00 L190.53,286.00 L190.48,287.00 L190.44,288.00 L190.39,289.00 L190.34,290.00 L190.29,291.00 L190.23,292.00 L190.18,293.00 L190.13,294.00 L190.07,295.00 L190.01,296.00 L189.95,297.00 L189.90,298.00 L189.84,299.00 L189.77,300.00 L189.71,301.00 L189.65,302.00 L189.58,303.00 L189.52,304.00 L189.45,305.00 L189.38,306.00 L189.31,307.00 L189.24,308.00 L189.17,309.00 L189.10,310.00 L189.03,311.00 L188.95,312.00 L188.88,313.00 L188.80,314.00 L188.72,315.00 L188.64,316.00 L188.56,317.00 L188.48,318.00 L188.40,319.00 L188.31,320.00 L188.23,321.00 L188.14,322.00 L188.05,323.00 L187.97,324.00 L187.88,325.00 L187.79,326.00 L187.69,327.00 L187.60,328.00 L187.51,329.00 L187.41,330.00 L187.32,331.00 L187.22,332.00 L187.12,333.00 L187.02,334.00 L186.92,335.00 L186.82,336.00 L186.71,337.00 L186.61,338.00 L186.50,339.00 L186.40,340.00 L186.29,341.00 L186.18,342.00 L186.07,343.00 L185.96,344.00 L185.85,345.00 L185.73,346.00 L185.62,347.00 L185.50,348.00 L185.39,349.00 L185.27,350.00 L185.15,351.00 L185.03,352.00 L184.91,353.00 L184.79,354.00 L184.66,355.00 L184.54,356.00 L184.41,357.00 L184.28,358.00 L184.15,359.00 L184.03,360.00 L183.89,361.00 L183.76,362.00 L183.63,363.00 L183.49,364.00 L183.36,365.00 L183.22,366.00 L183.08,367.00 L182.95,368.00 L182.80,369.00 L182.66,370.00 L182.52,371.00 L182.38,372.00 L182.23,373.00 L182.09,374.00 L181.94,375.00 L181.79,376.00 L181.64,377.00 L181.49,378.00 L181.34,379.00 L181.18,380.00 L181.03,381.00 L180.87,382.00 L180.72,383.00 L180.56,384.00 L180.40,385.00 L180.24,386.00 L180.08,387.00 L179.91,388.00 L179.75,389.00 L179.58,390.00 L179.42,391.00 L179.25,392.00 L179.08,393.00 L178.91,394.00 L178.74,395.00 L178.57,396.00 L178.39,397.00 L178.22,398.00 L178.04,399.00 L177.86,400.00 L177.68,401.00 L177.50,402.00 L177.32,403.00 L177.14,404.00 L176.96,405.00 L176.77,406.00 L176.59,407.00 L176.40,408.00 L176.21,409.00 L176.02,410.00 L175.83,411.00 L175.64,412.00 L175.44,413.00 L175.25,414.00 L175.05,415.00 L174.85,416.00 L174.65,417.00 L174.45,418.00 L174.25,419.00 L174.05,420.00 L173.85,421.00 L209.15,421.00 L208.95,420.00 L208.75,419.00 L208.55,418.00 L208.35,417.00 L208.15,416.00 L207.95,415.00 L207.75,414.00 L207.56,413.00 L207.36,412.00 L207.17,411.00 L206.98,410.00 L206.79,409.00 L206.60,408.00 L206.41,407.00 L206.23,406.00 L206.04,405.00 L205.86,404.00 L205.68,403.00 L205.50,402.00 L205.32,401.00 L205.14,400.00 L204.96,399.00 L204.78,398.00 L204.61,397.00 L204.43,396.00 L204.26,395.00 L204.09,394.00 L203.92,393.00 L203.75,392.00 L203.58,391.00 L203.42,390.00 L203.25,389.00 L203.09,388.00 L202.92,387.00 L202.76,386.00 L202.60,385.00 L202.44,384.00 L202.28,383.00 L202.13,382.00 L201.97,381.00 L201.82,380.00 L201.66,379.00 L201.51,378.00 L201.36,377.00 L201.21,376.00 L201.06,375.00 L200.91,374.00 L200.77,373.00 L200.62,372.00 L200.48,371.00 L200.34,370.00 L200.20,369.00 L200.05,368.00 L199.92,367.00 L199.78,366.00 L199.64,365.00 L199.51,364.00 L199.37,363.00 L199.24,362.00 L199.11,361.00 L198.97,360.00 L198.85,359.00 L198.72,358.00 L198.59,357.00 L198.46,356.00 L198.34,355.00 L198.21,354.00 L198.09,353.00 L197.97,352.00 L197.85,351.00 L197.73,350.00 L197.61,349.00 L197.50,348.00 L197.38,347.00 L197.27,346.00 L197.15,345.00 L197.04,344.00 L196.93,343.00 L196.82,342.00 L196.71,341.00 L196.60,340.00 L196.50,339.00 L196.39,338.00 L196.29,337.00 L196.18,336.00 L196.08,335.00 L195.98,334.00 L195.88,333.00 L195.78,332.00 L195.68,331.00 L195.59,330.00 L195.49,329.00 L195.40,328.00 L195.31,327.00 L195.21,326.00 L195.12,325.00 L195.03,324.00 L194.95,323.00 L194.86,322.00 L194.77,321.00 L194.69,320.00 L194.60,319.00 L194.52,318.00 L194.44,317.00 L194.36,316.00 L194.28,315.00 L194.20,314.00 L194.12,313.00 L194.05,312.00 L193.97,311.00 L193.90,310.00 L193.83,309.00 L193.76,308.00 L193.69,307.00 L193.62,306.00 L193.55,305.00 L193.48,304.00 L193.42,303.00 L193.35,302.00 L193.29,301.00 L193.23,300.00 L193.16,299.00 L193.10,298.00 L193.05,297.00 L192.99,296.00 L192.93,295.00 L192.87,294.00 L192.82,293.00 L192.77,292.00 L192.71,291.00 L192.66,290.00 L192.61,289.00 L192.56,288.00 L192.52,287.00 L192.47,286.00 L192.42,285.00 L192.38,284.00 L192.33,283.00 L192.29,282.00 L192.25,281.00 L192.21,280.00 L192.17,279.00 L192.13,278.00 L192.10,277.00 L192.06,276.00 L192.03,275.00 L191.99,274.00 L191.96,273.00 L191.93,272.00 L191.90,271.00 L191.87,270.00 L191.84,269.00 L191.81,268.00 L191.79,267.00 L191.76,266.00 L191.74,265.00 L191.72,264.00 L191.70,263.00 L191.68,262.00 L191.66,261.00 L191.64,260.00 L191.62,259.00 L191.61,258.00 L191.59,257.00 L191.58,256.00 L191.57,255.00 L191.55,254.00 L191.54,253.00 L191.53,252.00 L191.53,251.00 L191.52,250.00 L191.51,249.00 L191.51,248.00 L191.50,247.00 L191.50,246.00 L191.50,245.00 L191.50,244.00 L191.50,243.00 L191.50,242.00 L191.51,241.00 L191.51,240.00 L191.51,239.00 L191.52,238.00 L191.53,237.00 L191.54,236.00 L191.55,235.00 L191.56,234.00 L191.57,233.00 L191.58,232.00 L191.59,231.00 L191.61,230.00 L191.63,229.00 L191.64,228.00 L191.66,227.00 L191.68,226.00 L191.70,225.00 L191.72,224.00 L191.75,223.00 L191.77,222.00 L191.79,221.00 L191.82,220.00 L191.85,219.00 L191.88,218.00 L191.90,217.00 L191.94,216.00 L191.97,215.00 L192.00,214.00 L192.03,213.00 L192.07,212.00 L192.10,211.00 L192.14,210.00 L192.18,209.00 L192.22,208.00 L192.26,207.00 L192.30,206.00 L192.34,205.00 L192.39,204.00 L192.43,203.00 L192.48,202.00 L192.52,201.00 L192.57,200.00 L192.62,199.00 L192.67,198.00 L192.72,197.00 L192.78,196.00 L192.83,195.00 L192.89,194.00 L192.94,193.00 L193.00,192.00 L193.06,191.00 L193.12,190.00 L193.18,189.00 L193.24,188.00 L193.30,187.00 L193.36,186.00 L193.43,185.00 L193.50,184.00 L193.56,183.00 L193.63,182.00 L193.70,181.00 L193.77,180.00 L193.84,179.00 L193.92,178.00 L193.99,177.00 L194.06,176.00 L194.14,175.00 L194.22,174.00 L194.30,173.00 L194.38,172.00 L194.46,171.00 L194.54,170.00 L194.62,169.00 L194.70,168.00 L194.79,167.00 L194.88,166.00 L194.96,165.00 L195.05,164.00 L195.14,163.00 L195.23,162.00 L195.32,161.00 L195.42,160.00 L195.51,159.00 L195.61,158.00 L195.70,157.00 L195.80,156.00 L195.90,155.00 L196.00,154.00 L196.10,153.00 L196.20,152.00 L196.31,151.00 L196.41,150.00 L196.52,149.00 L196.62,148.00 L196.73,147.00 L196.84,146.00 L196.95,145.00 L197.06,144.00 L197.17,143.00 L197.29,142.00 L197.40,141.00 L197.52,140.00 L197.64,139.00 L197.75,138.00 L197.87,137.00 L197.99,136.00 L198.12,135.00 L198.24,134.00 L198.36,133.00 L198.49,132.00 L198.61,131.00 L198.74,130.00 L198.87,129.00 L199.00,128.00 L199.13,127.00 L199.26,126.00 L199.40,125.00 L199.53,124.00 L199.67,123.00 L199.81,122.00 L199.94,121.00 L200.08,120.00 L200.22,119.00 L200.37,118.00 L200.51,117.00 L200.65,116.00 L200.80,115.00 L200.94,114.00 L201.09,113.00 L201.24,112.00 L201.39,111.00 L201.54,110.00 L201.69,109.00 L201.85,108.00 L202.00,107.00 L202.16,106.00 L202.32,105.00 L202.47,104.00 L202.63,103.00 L202.79,102.00 L202.96,101.00 L203.12,100.00 L203.28,99.00 L203.45,98.00 L203.62,97.00 L203.78,96.00 L203.95,95.00 L204.12,94.00 L204.30,93.00 L204.47,92.00 L204.64,91.00 L204.82,90.00 L204.99,89.00 L205.17,88.00 L205.35,87.00 L205.53,86.00 L205.71,85.00 L205.90,84.00 L206.08,83.00 L206.27,82.00 L206.45,81.00 L206.64,80.00 L206.83,79.00 L207.02,78.00 L207.21,77.00 L207.40,76.00 L207.60,75.00 L207.79,74.00 L207.99,73.00 L208.19,72.00 L208.39,71.00 L208.59,70.00 L208.79,69.00 L208.99,68.00 L209.19,67.00 L209.40,66.00 L209.61,65.00 L209.81,64.00 L210.02,63.00 L210.23,62.00 L210.45,61.00 L210.66,60.00 L210.87,59.00 L211.09,58.00 L211.31,57.00 L211.52,56.00 L211.74,55.00 L211.96,54.00 L212.19,53.00 L212.41,52.00 L212.63,51.00 L212.86,50.00 L213.09,49.00 L213.32,48.00 L213.55,47.00 L213.78,46.00 L214.01,45.00 L214.24,44.00 L214.48,43.00 L214.72,42.00 L214.95,41.00 L215.19,40.00 L215.43,39.00 L215.68,38.00 L215.92,37.00 L216.16,36.00 L216.41,35.00 L216.66,34.00 L216.91,33.00 L217.16,32.00 L217.41,31.00 L217.66,30.00 L217.91,29.00 L218.17,28.00 L218.43,27.00Z" fill="#440154"/><g transform="matrix(5.9600,0.0000,0.0000,-9.2290,191.5,244.1)"><rect x="-0.1" y="2.0" width="0.2" height="1.9" fill="#d8a030" opacity="0.8"/><ellipse cx="-0.05" cy="3.97" rx="0.6" ry="0.5" fill="url(#spot0)"/><ellipse cx="0" cy="-3.6" rx="0.3" ry="0.25" fill="url(#spot0)"/></g></g>
<rect x="76.5" y="32.5" width="253" height="385" fill="none" stroke="#000" stroke-width="1.1"/>
<line x1="131.90" y1="417.5" x2="131.90" y2="422.4" stroke="#000" stroke-width="1.1"/>
<text transform="translate(118.50,438.05) scale(1.0341,1)" font-size="15.40">−10</text>
<line x1="191.50" y1="417.5" x2="191.50" y2="422.4" stroke="#000" stroke-width="1.1"/>
<text transform="translate(188.50,438.05) scale(0.8178,1)" font-size="15.40">0</text>
<line x1="251.10" y1="417.5" x2="251.10" y2="422.4" stroke="#000" stroke-width="1.1"/>
<text transform="translate(243.50,438.05) scale(0.8762,1)" font-size="15.40">10</text>
<line x1="310.70" y1="417.5" x2="310.70" y2="422.4" stroke="#000" stroke-width="1.1"/>
<text transform="translate(302.50,438.05) scale(0.9346,1)" font-size="15.40">20</text>
<line x1="76.5" y1="59.52" x2="71.6" y2="59.52" stroke="#000" stroke-width="1.1"/>
<text transform="translate(49.50,65.05) scale(0.9346,1)" font-size="15.40">20</text>
<line x1="76.5" y1="105.66" x2="71.6" y2="105.66" stroke="#000" stroke-width="1.1"/>
<text transform="translate(49.50,111.04) scale(0.8638,1)" font-size="15.62">15</text>
<line x1="76.5" y1="151.81" x2="71.6" y2="151.81" stroke="#000" stroke-width="1.1"/>
<text transform="translate(49.50,157.05) scale(0.8762,1)" font-size="15.40">10</text>
<line x1="76.5" y1="197.95" x2="71.6" y2="197.95" stroke="#000" stroke-width="1.1"/>
<text transform="translate(58.50,203.04) scale(0.8062,1)" font-size="15.62">5</text>
<line x1="76.5" y1="244.10" x2="71.6" y2="244.10" stroke="#000" stroke-width="1.1"/>
<text transform="translate(58.50,250.05) scale(0.8178,1)" font-size="15.40">0</text>
<line x1="76.5" y1="290.25" x2="71.6" y2="290.25" stroke="#000" stroke-width="1.1"/>
<text transform="translate(46.50,296.04) scale(0.9549,1)" font-size="15.62">−5</text>
<line x1="76.5" y1="336.39" x2="71.6" y2="336.39" stroke="#000" stroke-width="1.1"/>
<text transform="translate(37.50,342.05) scale(1.0341,1)" font-size="15.40">−10</text>
<line x1="76.5" y1="382.53" x2="71.6" y2="382.53" stroke="#000" stroke-width="1.1"/>
<text transform="translate(37.50,388.04) scale(0.9817,1)" font-size="15.62">−15</text>
<text transform="translate(115.00,22.86) scale(1.1010,1)" font-size="17.60">η=0.0 rad, χ=0.0 rad</text>
<text transform="translate(107.00,461) scale(1.0789,1)" font-size="14.7">Scattering vector</text>
<text transform="translate(230.00,461) scale(0.9788,1)" font-size="14.7" font-style="italic">q</text>
<text transform="translate(239.00,463.5) scale(0.9246,1)" font-size="10.3" font-style="italic">IP</text>
<text transform="translate(253.00,461) scale(0.6129,1)" font-size="14.7">(</text>
<text transform="translate(258.00,461) scale(1.0285,1)" font-size="14.7" font-style="italic">nm</text>
<text transform="translate(282.00,455.5) scale(0.9975,1)" font-size="10.3">−</text>
<text transform="translate(290.00,455.5) scale(0.8731,1)" font-size="10.3">1</text>
<text transform="translate(296.00,461) scale(0.6129,1)" font-size="14.7">)</text>
<rect x="379" y="32" width="253" height="385" fill="#440154"/>
<g clip-path="url(#ax1)"><g clip-path="url(#cov1)"><g transform="matrix(5.9600,0.0000,0.0000,-9.2570,494.5,247.6)"><g clip-path="url(#qU1)"><rect x="-40" y="0" width="80" height="40" fill="#31648d"/><circle cx="0" cy="0" r="26" fill="url(#broadU1)"/><rect x="-40" y="0" width="80" height="2.67" fill="#25828d" opacity="0.45"/><ellipse cx="0" cy="0" rx="12" ry="9" fill="url(#glowU1)" transform="scale(1)" /><rect x="-7.47" y="0" width="0.24" height="23" fill="#29ac80" opacity="0.5" filter="url(#blurS1)"/><rect x="6.88" y="0" width="0.24" height="21" fill="#29ac80" opacity="0.5" filter="url(#blurS1)"/><rect x="-16.50" y="0" width="0.21" height="9" fill="#219989" opacity="0.5" filter="url(#blurS1)"/><rect x="-14.80" y="0" width="0.21" height="8" fill="#219989" opacity="0.5" filter="url(#blurS1)"/><rect x="15.79" y="0" width="0.21" height="12" fill="#219989" opacity="0.5" filter="url(#blurS1)"/><rect x="-10.61" y="0" width="0.21" height="13" fill="#21978a" opacity="0.5" filter="url(#blurS1)"/><rect x="10.09" y="0" width="0.21" height="14" fill="#21978a" opacity="0.5" filter="url(#blurS1)"/><rect x="-3.60" y="0" width="0.21" height="7" fill="#21a086" opacity="0.5" filter="url(#blurS1)"/><rect x="3.29" y="0" width="0.21" height="7" fill="#21a086" opacity="0.5" filter="url(#blurS1)"/><rect x="19.20" y="0" width="0.21" height="7" fill="#21978a" opacity="0.5" filter="url(#blurS1)"/><rect x="-12.99" y="0" width="0.17" height="6" fill="#21978a" opacity="0.5" filter="url(#blurS1)"/><path d="M-2.2,0 A2.2,2.2 0 0 0 2.2,0" fill="none" stroke="#4fc26a" stroke-width="0.1" opacity="0.5"/><path d="M-2.6,0 A2.6,2.6 0 0 0 2.6,0" fill="none" stroke="#64c95d" stroke-width="0.1" opacity="0.6"/><path d="M-3.1,0 A3.1,3.1 0 0 0 3.1,0" fill="none" stroke="#94d640" stroke-width="0.12" opacity="0.9"/><path d="M-3.45,0 A3.45,3.45 0 0 0 3.45,0" fill="none" stroke="#44be70" stroke-width="0.09" opacity="0.65"/><path d="M-3.9,0 A3.9,3.9 0 0 0 3.9,0" fill="none" stroke="#29ac80" stroke-width="0.08" opacity="0.45"/><path d="M-11,14.5 A18.2,18.2 0 0 0 10.5,14.87" fill="none" stroke="#20908c" stroke-width="0.3" opacity="0.6" filter="url(#blurS1)"/><rect x="-0.12" y="2" width="0.24" height="2" fill="#e8b030" opacity="0.6"/><ellipse cx="-17.53" cy="2.07" rx="0.61" ry="0.85" fill="url(#spot1)" opacity="1.00"/><ellipse cx="-7.42" cy="4.06" rx="0.41" ry="0.57" fill="url(#spotG1)" opacity="0.72"/><ellipse cx="-7.27" cy="0.36" rx="0.41" ry="0.57" fill="url(#spotG1)" opacity="0.78"/><ellipse cx="-3.62" cy="5.89" rx="0.41" ry="0.57" fill="url(#spot1)" opacity="0.96"/><ellipse cx="-3.62" cy="2.06" rx="0.41" ry="0.57" fill="url(#spot1)" opacity="1.00"/><ellipse cx="-3.44" cy="0.49" rx="0.34" ry="0.47" fill="url(#spotG1)" opacity="0.72"/><ellipse cx="-10.49" cy="9.76" rx="0.47" ry="0.66" fill="url(#spotG1)" opacity="0.66"/><ellipse cx="-10.49" cy="5.97" rx="0.41" ry="0.57" fill="url(#spotG1)" opacity="0.66"/><ellipse cx="-10.69" cy="2.07" rx="0.41" ry="0.57" fill="url(#spotG1)" opacity="0.72"/><ellipse cx="-13.12" cy="4.02" rx="0.41" ry="0.57" fill="url(#spotG1)" opacity="0.60"/><ellipse cx="-16.54" cy="5.86" rx="0.41" ry="0.57" fill="url(#spotG1)" opacity="0.60"/><ellipse cx="-14.51" cy="14.53" rx="0.47" ry="0.66" fill="url(#spotG1)" opacity="0.84"/><ellipse cx="-0.18" cy="3.97" rx="0.47" ry="0.66" fill="url(#spot1)" opacity="1.00"/><ellipse cx="3.37" cy="5.89" rx="0.41" ry="0.57" fill="url(#spot1)" opacity="0.96"/><ellipse cx="3.37" cy="2.15" rx="0.41" ry="0.57" fill="url(#spot1)" opacity="1.00"/><ellipse cx="10.1" cy="9.75" rx="0.41" ry="0.57" fill="url(#spotG1)" opacity="0.66"/><ellipse cx="10.1" cy="5.97" rx="0.41" ry="0.57" fill="url(#spotG1)" opacity="0.66"/><ellipse cx="17.79" cy="9.97" rx="0.41" ry="0.57" fill="url(#spotG1)" opacity="0.84"/><ellipse cx="17.18" cy="2.19" rx="0.61" ry="0.85" fill="url(#spot1)" opacity="1.00"/><ellipse cx="19.19" cy="4.02" rx="0.47" ry="0.66" fill="url(#spotG1)" opacity="0.66"/><ellipse cx="7.08" cy="4.02" rx="0.41" ry="0.57" fill="url(#spotG1)" opacity="0.66"/><ellipse cx="10.3" cy="2.07" rx="0.41" ry="0.57" fill="url(#spotG1)" opacity="0.66"/><ellipse cx="7.08" cy="0.37" rx="0.41" ry="0.57" fill="url(#spotG1)" opacity="0.72"/><ellipse cx="9.03" cy="18.16" rx="0.34" ry="0.47" fill="url(#spotG1)" opacity="0.72"/><ellipse cx="11.53" cy="7.8" rx="0.41" ry="0.57" fill="url(#spotG1)" opacity="0.54"/><ellipse cx="-15.3" cy="12.8" rx="0.34" ry="0.47" fill="url(#spotG1)" opacity="0.66"/><ellipse cx="-14.0" cy="7.9" rx="0.41" ry="0.57" fill="url(#spotG1)" opacity="0.54"/><ellipse cx="13.2" cy="4.1" rx="0.41" ry="0.57" fill="url(#spotG1)" opacity="0.54"/><ellipse cx="15.6" cy="6.0" rx="0.41" ry="0.57" fill="url(#spotG1)" opacity="0.54"/><path d="M18.7,2.5 L24,2.5 L24,5.4 L18.7,5.4Z" fill="#3e4888" opacity="0.4" filter="url(#blur1)"/><circle cx="7.67" cy="14.15" r="0.22" fill="#440154" opacity="0.8"/><circle cx="15.9" cy="0.76" r="0.22" fill="#440154" opacity="0.8"/></g><g clip-path="url(#qL1)"><rect x="-40" y="-40" width="80" height="40" fill="#462d7a"/><ellipse cx="0" cy="-3" rx="10" ry="11" fill="url(#glowL1)"/><path d="M-40,0.230 L0,0.470 L0,-0.230 L-40,-0.470Z" fill="#462978" opacity="0.5"/><path d="M0,0.470 L40,0.710 L40,-0.190 L0,-0.280Z" fill="#36598c" opacity="0.7"/></g></g><rect x="379" y="32" width="253" height="385" filter="url(#nz1)" mask="url(#lm1)"/><g transform="matrix(5.9600,0.0000,0.0000,-9.2570,494.5,247.6)"><g clip-path="url(#qL1)"><path d="M-40,-0.470 L-1.2,-0.230 L-2.2,-0.8 L-18.5,-3.9 L-40,-6.5Z" fill="#440154" opacity="0.88"/><path d="M-2.2,-0.8 L-18.5,-3.9 L-40,-6.5 L-40,-7.5 L-18.5,-4.6 L-3,-1.6Z" fill="#440154" opacity="0.4" filter="url(#blur1)"/><g filter="url(#blur1)"><path d="M1.5,-0.22 L40,0.01 L40,-6.40 L1.5,-1.01Z" fill="#440154" opacity="0.92"/><path d="M1.5,-1.01 L40,-6.40 L40,-8.60 L1.5,-1.29Z" fill="#440154" opacity="0.7"/><path d="M1.5,-1.29 L40,-8.60 L40,-11.20 L1.5,-1.57Z" fill="#440154" opacity="0.45"/><path d="M1.5,-1.57 L40,-11.20 L40,-13.90 L1.5,-1.96Z" fill="#440154" opacity="0.22"/></g><path d="M-18.5,-3.9 Q-8,-2.2 -2.2,-0.8" fill="none" stroke="#2b738e" stroke-width="0.09" opacity="0.6"/><path d="M-10.6,-3.7 Q-5,-2.6 -3.7,-1.4" fill="none" stroke="#277d8e" stroke-width="0.1" opacity="0.7"/><rect x="16.55" y="-2.1" width="0.22" height="1.3" fill="#24848d" opacity="0.8"/><rect x="18.95" y="-3.9" width="0.2" height="0.8" fill="#29788e" opacity="0.7"/></g><ellipse cx="-0.7" cy="0.55" rx="1.45" ry="1.55" fill="#3e2170"/><ellipse cx="-0.7" cy="-0.3" rx="1.35" ry="1.05" fill="#3e2170"/></g></g><path d="M481.75,27.00 L481.93,28.00 L482.12,29.00 L482.30,30.00 L482.48,31.00 L482.66,32.00 L482.83,33.00 L483.01,34.00 L483.19,35.00 L483.36,36.00 L483.53,37.00 L483.71,38.00 L483.88,39.00 L484.04,40.00 L484.21,41.00 L484.38,42.00 L484.55,43.00 L484.71,44.00 L484.87,45.00 L485.03,46.00 L485.20,47.00 L485.35,48.00 L485.51,49.00 L485.67,50.00 L485.83,51.00 L485.98,52.00 L486.13,53.00 L486.29,54.00 L486.44,55.00 L486.59,56.00 L486.74,57.00 L486.89,58.00 L487.03,59.00 L487.18,60.00 L487.32,61.00 L487.46,62.00 L487.61,63.00 L487.75,64.00 L487.89,65.00 L488.02,66.00 L488.16,67.00 L488.30,68.00 L488.43,69.00 L488.57,70.00 L488.70,71.00 L488.83,72.00 L488.96,73.00 L489.09,74.00 L489.22,75.00 L489.34,76.00 L489.47,77.00 L489.59,78.00 L489.72,79.00 L489.84,80.00 L489.96,81.00 L490.08,82.00 L490.20,83.00 L490.31,84.00 L490.43,85.00 L490.55,86.00 L490.66,87.00 L490.77,88.00 L490.88,89.00 L490.99,90.00 L491.10,91.00 L491.21,92.00 L491.32,93.00 L491.42,94.00 L491.53,95.00 L491.63,96.00 L491.74,97.00 L491.84,98.00 L491.94,99.00 L492.04,100.00 L492.13,101.00 L492.23,102.00 L492.33,103.00 L492.42,104.00 L492.51,105.00 L492.61,106.00 L492.70,107.00 L492.79,108.00 L492.88,109.00 L492.96,110.00 L493.05,111.00 L493.14,112.00 L493.22,113.00 L493.30,114.00 L493.39,115.00 L493.47,116.00 L493.55,117.00 L493.63,118.00 L493.70,119.00 L493.78,120.00 L493.86,121.00 L493.93,122.00 L494.00,123.00 L494.08,124.00 L494.15,125.00 L494.22,126.00 L494.29,127.00 L494.35,128.00 L494.42,129.00 L494.48,130.00 L494.45,131.00 L494.39,132.00 L494.33,133.00 L494.26,134.00 L494.20,135.00 L494.15,136.00 L494.09,137.00 L494.03,138.00 L493.98,139.00 L493.92,140.00 L493.87,141.00 L493.82,142.00 L493.77,143.00 L493.72,144.00 L493.67,145.00 L493.62,146.00 L493.57,147.00 L493.53,148.00 L493.48,149.00 L493.44,150.00 L493.40,151.00 L493.36,152.00 L493.32,153.00 L493.28,154.00 L493.24,155.00 L493.20,156.00 L493.17,157.00 L493.13,158.00 L493.10,159.00 L493.07,160.00 L493.04,161.00 L493.01,162.00 L492.98,163.00 L492.95,164.00 L492.92,165.00 L492.90,166.00 L492.87,167.00 L492.85,168.00 L492.83,169.00 L492.81,170.00 L492.79,171.00 L492.77,172.00 L492.75,173.00 L492.73,174.00 L492.72,175.00 L492.70,176.00 L492.69,177.00 L492.67,178.00 L492.66,179.00 L492.65,180.00 L492.64,181.00 L492.64,182.00 L492.63,183.00 L492.62,184.00 L492.62,185.00 L492.61,186.00 L492.61,187.00 L492.61,188.00 L492.61,189.00 L492.61,190.00 L492.61,191.00 L492.61,192.00 L492.62,193.00 L492.62,194.00 L492.63,195.00 L492.64,196.00 L492.65,197.00 L492.65,198.00 L492.66,199.00 L492.68,200.00 L492.69,201.00 L492.70,202.00 L492.72,203.00 L492.73,204.00 L492.75,205.00 L492.77,206.00 L492.79,207.00 L492.81,208.00 L492.83,209.00 L492.85,210.00 L492.88,211.00 L492.90,212.00 L492.93,213.00 L492.95,214.00 L492.98,215.00 L493.01,216.00 L493.04,217.00 L493.07,218.00 L493.11,219.00 L493.14,220.00 L493.17,221.00 L493.21,222.00 L493.25,223.00 L493.28,224.00 L493.32,225.00 L493.36,226.00 L493.40,227.00 L493.45,228.00 L493.49,229.00 L493.53,230.00 L493.58,231.00 L493.63,232.00 L493.68,233.00 L493.72,234.00 L493.77,235.00 L493.83,236.00 L493.88,237.00 L493.93,238.00 L493.99,239.00 L494.04,240.00 L494.10,241.00 L494.16,242.00 L494.21,243.00 L494.27,244.00 L494.34,245.00 L494.40,246.00 L494.46,247.00 L494.47,248.00 L494.41,249.00 L494.34,250.00 L494.27,251.00 L494.20,252.00 L494.13,253.00 L494.06,254.00 L493.99,255.00 L493.92,256.00 L493.84,257.00 L493.77,258.00 L493.69,259.00 L493.61,260.00 L493.53,261.00 L493.45,262.00 L493.37,263.00 L493.29,264.00 L493.21,265.00 L493.12,266.00 L493.04,267.00 L492.95,268.00 L492.86,269.00 L492.77,270.00 L492.68,271.00 L492.59,272.00 L492.50,273.00 L492.41,274.00 L492.31,275.00 L492.21,276.00 L492.12,277.00 L492.02,278.00 L491.92,279.00 L491.82,280.00 L491.72,281.00 L491.62,282.00 L491.51,283.00 L491.41,284.00 L491.30,285.00 L491.19,286.00 L491.08,287.00 L490.98,288.00 L490.86,289.00 L490.75,290.00 L490.64,291.00 L490.53,292.00 L490.41,293.00 L490.29,294.00 L490.18,295.00 L490.06,296.00 L489.94,297.00 L489.82,298.00 L489.69,299.00 L489.57,300.00 L489.45,301.00 L489.32,302.00 L489.19,303.00 L489.07,304.00 L488.94,305.00 L488.81,306.00 L488.68,307.00 L488.54,308.00 L488.41,309.00 L488.27,310.00 L488.14,311.00 L488.00,312.00 L487.86,313.00 L487.72,314.00 L487.58,315.00 L487.44,316.00 L487.30,317.00 L487.15,318.00 L487.01,319.00 L486.86,320.00 L486.71,321.00 L486.56,322.00 L486.41,323.00 L486.26,324.00 L486.11,325.00 L485.96,326.00 L485.80,327.00 L485.64,328.00 L485.49,329.00 L485.33,330.00 L485.17,331.00 L485.01,332.00 L484.85,333.00 L484.68,334.00 L484.52,335.00 L484.35,336.00 L484.18,337.00 L484.02,338.00 L483.85,339.00 L483.68,340.00 L483.50,341.00 L483.33,342.00 L483.16,343.00 L482.98,344.00 L482.80,345.00 L482.63,346.00 L482.45,347.00 L482.27,348.00 L482.09,349.00 L481.90,350.00 L481.72,351.00 L481.53,352.00 L481.35,353.00 L481.16,354.00 L480.97,355.00 L480.78,356.00 L480.59,357.00 L480.40,358.00 L480.20,359.00 L480.01,360.00 L479.81,361.00 L479.61,362.00 L479.41,363.00 L479.21,364.00 L479.01,365.00 L478.81,366.00 L478.60,367.00 L478.40,368.00 L478.19,369.00 L477.98,370.00 L477.78,371.00 L477.57,372.00 L477.35,373.00 L477.14,374.00 L476.93,375.00 L476.71,376.00 L476.49,377.00 L476.28,378.00 L476.06,379.00 L475.84,380.00 L475.61,381.00 L475.39,382.00 L475.17,383.00 L474.94,384.00 L474.71,385.00 L474.48,386.00 L474.26,387.00 L474.02,388.00 L473.79,389.00 L473.56,390.00 L473.32,391.00 L473.09,392.00 L472.85,393.00 L472.61,394.00 L472.37,395.00 L472.13,396.00 L471.88,397.00 L471.64,398.00 L471.39,399.00 L471.15,400.00 L470.90,401.00 L470.65,402.00 L470.40,403.00 L470.15,404.00 L469.89,405.00 L469.64,406.00 L469.38,407.00 L469.12,408.00 L468.86,409.00 L468.60,410.00 L468.34,411.00 L468.08,412.00 L467.81,413.00 L467.55,414.00 L467.28,415.00 L467.01,416.00 L466.74,417.00 L466.47,418.00 L466.19,419.00 L465.92,420.00 L465.64,421.00 L523.36,421.00 L523.08,420.00 L522.81,419.00 L522.53,418.00 L522.26,417.00 L521.99,416.00 L521.72,415.00 L521.45,414.00 L521.19,413.00 L520.92,412.00 L520.66,411.00 L520.40,410.00 L520.14,409.00 L519.88,408.00 L519.62,407.00 L519.36,406.00 L519.11,405.00 L518.85,404.00 L518.60,403.00 L518.35,402.00 L518.10,401.00 L517.85,400.00 L517.61,399.00 L517.36,398.00 L517.12,397.00 L516.87,396.00 L516.63,395.00 L516.39,394.00 L516.15,393.00 L515.91,392.00 L515.68,391.00 L515.44,390.00 L515.21,389.00 L514.98,388.00 L514.74,387.00 L514.52,386.00 L514.29,385.00 L514.06,384.00 L513.83,383.00 L513.61,382.00 L513.39,381.00 L513.16,380.00 L512.94,379.00 L512.72,378.00 L512.51,377.00 L512.29,376.00 L512.07,375.00 L511.86,374.00 L511.65,373.00 L511.43,372.00 L511.22,371.00 L511.02,370.00 L510.81,369.00 L510.60,368.00 L510.40,367.00 L510.19,366.00 L509.99,365.00 L509.79,364.00 L509.59,363.00 L509.39,362.00 L509.19,361.00 L508.99,360.00 L508.80,359.00 L508.60,358.00 L508.41,357.00 L508.22,356.00 L508.03,355.00 L507.84,354.00 L507.65,353.00 L507.47,352.00 L507.28,351.00 L507.10,350.00 L506.91,349.00 L506.73,348.00 L506.55,347.00 L506.37,346.00 L506.20,345.00 L506.02,344.00 L505.84,343.00 L505.67,342.00 L505.50,341.00 L505.32,340.00 L505.15,339.00 L504.98,338.00 L504.82,337.00 L504.65,336.00 L504.48,335.00 L504.32,334.00 L504.15,333.00 L503.99,332.00 L503.83,331.00 L503.67,330.00 L503.51,329.00 L503.36,328.00 L503.20,327.00 L503.04,326.00 L502.89,325.00 L502.74,324.00 L502.59,323.00 L502.44,322.00 L502.29,321.00 L502.14,320.00 L501.99,319.00 L501.85,318.00 L501.70,317.00 L501.56,316.00 L501.42,315.00 L501.28,314.00 L501.14,313.00 L501.00,312.00 L500.86,311.00 L500.73,310.00 L500.59,309.00 L500.46,308.00 L500.32,307.00 L500.19,306.00 L500.06,305.00 L499.93,304.00 L499.81,303.00 L499.68,302.00 L499.55,301.00 L499.43,300.00 L499.31,299.00 L499.18,298.00 L499.06,297.00 L498.94,296.00 L498.82,295.00 L498.71,294.00 L498.59,293.00 L498.47,292.00 L498.36,291.00 L498.25,290.00 L498.14,289.00 L498.02,288.00 L497.92,287.00 L497.81,286.00 L497.70,285.00 L497.59,284.00 L497.49,283.00 L497.38,282.00 L497.28,281.00 L497.18,280.00 L497.08,279.00 L496.98,278.00 L496.88,277.00 L496.79,276.00 L496.69,275.00 L496.59,274.00 L496.50,273.00 L496.41,272.00 L496.32,271.00 L496.23,270.00 L496.14,269.00 L496.05,268.00 L495.96,267.00 L495.88,266.00 L495.79,265.00 L495.71,264.00 L495.63,263.00 L495.55,262.00 L495.47,261.00 L495.39,260.00 L495.31,259.00 L495.23,258.00 L495.16,257.00 L495.08,256.00 L495.01,255.00 L494.94,254.00 L494.87,253.00 L494.80,252.00 L494.73,251.00 L494.66,250.00 L494.59,249.00 L494.53,248.00 L494.54,247.00 L494.60,246.00 L494.66,245.00 L494.73,244.00 L494.79,243.00 L494.84,242.00 L494.90,241.00 L494.96,240.00 L495.01,239.00 L495.07,238.00 L495.12,237.00 L495.17,236.00 L495.23,235.00 L495.28,234.00 L495.32,233.00 L495.37,232.00 L495.42,231.00 L495.47,230.00 L495.51,229.00 L495.55,228.00 L495.60,227.00 L495.64,226.00 L495.68,225.00 L495.72,224.00 L495.75,223.00 L495.79,222.00 L495.83,221.00 L495.86,220.00 L495.89,219.00 L495.93,218.00 L495.96,217.00 L495.99,216.00 L496.02,215.00 L496.05,214.00 L496.07,213.00 L496.10,212.00 L496.12,211.00 L496.15,210.00 L496.17,209.00 L496.19,208.00 L496.21,207.00 L496.23,206.00 L496.25,205.00 L496.27,204.00 L496.28,203.00 L496.30,202.00 L496.31,201.00 L496.32,200.00 L496.34,199.00 L496.35,198.00 L496.35,197.00 L496.36,196.00 L496.37,195.00 L496.38,194.00 L496.38,193.00 L496.39,192.00 L496.39,191.00 L496.39,190.00 L496.39,189.00 L496.39,188.00 L496.39,187.00 L496.39,186.00 L496.38,185.00 L496.38,184.00 L496.37,183.00 L496.36,182.00 L496.36,181.00 L496.35,180.00 L496.34,179.00 L496.33,178.00 L496.31,177.00 L496.30,176.00 L496.28,175.00 L496.27,174.00 L496.25,173.00 L496.23,172.00 L496.21,171.00 L496.19,170.00 L496.17,169.00 L496.15,168.00 L496.13,167.00 L496.10,166.00 L496.08,165.00 L496.05,164.00 L496.02,163.00 L495.99,162.00 L495.96,161.00 L495.93,160.00 L495.90,159.00 L495.87,158.00 L495.83,157.00 L495.80,156.00 L495.76,155.00 L495.72,154.00 L495.68,153.00 L495.64,152.00 L495.60,151.00 L495.56,150.00 L495.52,149.00 L495.47,148.00 L495.43,147.00 L495.38,146.00 L495.33,145.00 L495.28,144.00 L495.23,143.00 L495.18,142.00 L495.13,141.00 L495.08,140.00 L495.02,139.00 L494.97,138.00 L494.91,137.00 L494.85,136.00 L494.80,135.00 L494.74,134.00 L494.67,133.00 L494.61,132.00 L494.55,131.00 L494.52,130.00 L494.58,129.00 L494.65,128.00 L494.71,127.00 L494.78,126.00 L494.85,125.00 L494.92,124.00 L495.00,123.00 L495.07,122.00 L495.14,121.00 L495.22,120.00 L495.30,119.00 L495.37,118.00 L495.45,117.00 L495.53,116.00 L495.61,115.00 L495.70,114.00 L495.78,113.00 L495.86,112.00 L495.95,111.00 L496.04,110.00 L496.12,109.00 L496.21,108.00 L496.30,107.00 L496.39,106.00 L496.49,105.00 L496.58,104.00 L496.67,103.00 L496.77,102.00 L496.87,101.00 L496.96,100.00 L497.06,99.00 L497.16,98.00 L497.26,97.00 L497.37,96.00 L497.47,95.00 L497.58,94.00 L497.68,93.00 L497.79,92.00 L497.90,91.00 L498.01,90.00 L498.12,89.00 L498.23,88.00 L498.34,87.00 L498.45,86.00 L498.57,85.00 L498.69,84.00 L498.80,83.00 L498.92,82.00 L499.04,81.00 L499.16,80.00 L499.28,79.00 L499.41,78.00 L499.53,77.00 L499.66,76.00 L499.78,75.00 L499.91,74.00 L500.04,73.00 L500.17,72.00 L500.30,71.00 L500.43,70.00 L500.57,69.00 L500.70,68.00 L500.84,67.00 L500.98,66.00 L501.11,65.00 L501.25,64.00 L501.39,63.00 L501.54,62.00 L501.68,61.00 L501.82,60.00 L501.97,59.00 L502.11,58.00 L502.26,57.00 L502.41,56.00 L502.56,55.00 L502.71,54.00 L502.87,53.00 L503.02,52.00 L503.17,51.00 L503.33,50.00 L503.49,49.00 L503.65,48.00 L503.80,47.00 L503.97,46.00 L504.13,45.00 L504.29,44.00 L504.45,43.00 L504.62,42.00 L504.79,41.00 L504.96,40.00 L505.12,39.00 L505.29,38.00 L505.47,37.00 L505.64,36.00 L505.81,35.00 L505.99,34.00 L506.17,33.00 L506.34,32.00 L506.52,31.00 L506.70,30.00 L506.88,29.00 L507.07,28.00 L507.25,27.00Z" fill="#440154"/><g transform="matrix(5.9600,0.0000,0.0000,-9.2570,494.5,247.6)"><rect x="-0.1" y="2.0" width="0.2" height="1.9" fill="#d8a030" opacity="0.8"/><ellipse cx="-0.05" cy="3.97" rx="0.6" ry="0.5" fill="url(#spot1)"/><ellipse cx="0" cy="-3.6" rx="0.3" ry="0.25" fill="url(#spot1)"/></g></g>
<rect x="379.5" y="32.5" width="253" height="385" fill="none" stroke="#000" stroke-width="1.1"/>
<line x1="434.90" y1="417.5" x2="434.90" y2="422.4" stroke="#000" stroke-width="1.1"/>
<text transform="translate(421.50,438.05) scale(1.0341,1)" font-size="15.40">−10</text>
<line x1="494.50" y1="417.5" x2="494.50" y2="422.4" stroke="#000" stroke-width="1.1"/>
<text transform="translate(491.50,438.05) scale(0.8178,1)" font-size="15.40">0</text>
<line x1="554.10" y1="417.5" x2="554.10" y2="422.4" stroke="#000" stroke-width="1.1"/>
<text transform="translate(546.50,438.05) scale(0.8762,1)" font-size="15.40">10</text>
<line x1="613.70" y1="417.5" x2="613.70" y2="422.4" stroke="#000" stroke-width="1.1"/>
<text transform="translate(605.50,438.05) scale(0.9346,1)" font-size="15.40">20</text>
<line x1="379.5" y1="62.46" x2="374.6" y2="62.46" stroke="#000" stroke-width="1.1"/>
<text transform="translate(352.50,68.05) scale(0.9346,1)" font-size="15.40">20</text>
<line x1="379.5" y1="108.75" x2="374.6" y2="108.75" stroke="#000" stroke-width="1.1"/>
<text transform="translate(352.50,114.04) scale(0.8638,1)" font-size="15.62">15</text>
<line x1="379.5" y1="155.03" x2="374.6" y2="155.03" stroke="#000" stroke-width="1.1"/>
<text transform="translate(352.50,161.05) scale(0.8762,1)" font-size="15.40">10</text>
<line x1="379.5" y1="201.31" x2="374.6" y2="201.31" stroke="#000" stroke-width="1.1"/>
<text transform="translate(361.50,207.04) scale(0.8062,1)" font-size="15.62">5</text>
<line x1="379.5" y1="247.60" x2="374.6" y2="247.60" stroke="#000" stroke-width="1.1"/>
<text transform="translate(361.50,253.05) scale(0.8178,1)" font-size="15.40">0</text>
<line x1="379.5" y1="293.88" x2="374.6" y2="293.88" stroke="#000" stroke-width="1.1"/>
<text transform="translate(349.50,299.04) scale(0.9549,1)" font-size="15.62">−5</text>
<line x1="379.5" y1="340.17" x2="374.6" y2="340.17" stroke="#000" stroke-width="1.1"/>
<text transform="translate(340.50,346.05) scale(1.0341,1)" font-size="15.40">−10</text>
<line x1="379.5" y1="386.45" x2="374.6" y2="386.45" stroke="#000" stroke-width="1.1"/>
<text transform="translate(340.50,392.04) scale(0.9817,1)" font-size="15.62">−15</text>
<text transform="translate(418.00,22.86) scale(1.1010,1)" font-size="17.60">η=0.1 rad, χ=0.0 rad</text>
<text transform="translate(410.00,461) scale(1.0789,1)" font-size="14.7">Scattering vector</text>
<text transform="translate(533.00,461) scale(0.9788,1)" font-size="14.7" font-style="italic">q</text>
<text transform="translate(542.00,463.5) scale(0.9246,1)" font-size="10.3" font-style="italic">IP</text>
<text transform="translate(556.00,461) scale(0.6129,1)" font-size="14.7">(</text>
<text transform="translate(561.00,461) scale(1.0285,1)" font-size="14.7" font-style="italic">nm</text>
<text transform="translate(585.00,455.5) scale(0.9975,1)" font-size="10.3">−</text>
<text transform="translate(593.00,455.5) scale(0.8731,1)" font-size="10.3">1</text>
<text transform="translate(599.00,461) scale(0.6129,1)" font-size="14.7">)</text>
<rect x="683" y="32" width="252" height="385" fill="#440154"/>
<g clip-path="url(#ax2)"><g clip-path="url(#cov2)"><g transform="matrix(5.2865,4.2604,2.7522,-8.1834,793.0,234.0)"><g clip-path="url(#qU2)"><rect x="-40" y="0" width="80" height="40" fill="#31648d"/><circle cx="0" cy="0" r="26" fill="url(#broadU2)"/><rect x="-40" y="0" width="80" height="2.34" fill="#25828d" opacity="0.45"/><ellipse cx="0" cy="0" rx="12" ry="9" fill="url(#glowU2)" transform="scale(1)" /><rect x="-7.47" y="0" width="0.24" height="23" fill="#29ac80" opacity="0.5" filter="url(#blurS2)"/><rect x="6.88" y="0" width="0.24" height="21" fill="#29ac80" opacity="0.5" filter="url(#blurS2)"/><rect x="-16.50" y="0" width="0.21" height="9" fill="#219989" opacity="0.5" filter="url(#blurS2)"/><rect x="-14.80" y="0" width="0.21" height="8" fill="#219989" opacity="0.5" filter="url(#blurS2)"/><rect x="15.79" y="0" width="0.21" height="12" fill="#219989" opacity="0.5" filter="url(#blurS2)"/><rect x="-10.61" y="0" width="0.21" height="13" fill="#21978a" opacity="0.5" filter="url(#blurS2)"/><rect x="10.09" y="0" width="0.21" height="14" fill="#21978a" opacity="0.5" filter="url(#blurS2)"/><rect x="-3.60" y="0" width="0.21" height="7" fill="#21a086" opacity="0.5" filter="url(#blurS2)"/><rect x="3.29" y="0" width="0.21" height="7" fill="#21a086" opacity="0.5" filter="url(#blurS2)"/><rect x="19.20" y="0" width="0.21" height="7" fill="#21978a" opacity="0.5" filter="url(#blurS2)"/><rect x="-12.99" y="0" width="0.17" height="6" fill="#21978a" opacity="0.5" filter="url(#blurS2)"/><path d="M-2.2,0 A2.2,2.2 0 0 0 2.2,0" fill="none" stroke="#4fc26a" stroke-width="0.1" opacity="0.5"/><path d="M-2.6,0 A2.6,2.6 0 0 0 2.6,0" fill="none" stroke="#64c95d" stroke-width="0.1" opacity="0.6"/><path d="M-3.1,0 A3.1,3.1 0 0 0 3.1,0" fill="none" stroke="#94d640" stroke-width="0.12" opacity="0.9"/><path d="M-3.45,0 A3.45,3.45 0 0 0 3.45,0" fill="none" stroke="#44be70" stroke-width="0.09" opacity="0.65"/><path d="M-3.9,0 A3.9,3.9 0 0 0 3.9,0" fill="none" stroke="#29ac80" stroke-width="0.08" opacity="0.45"/><path d="M-11,14.5 A18.2,18.2 0 0 0 10.5,14.87" fill="none" stroke="#20908c" stroke-width="0.3" opacity="0.6" filter="url(#blurS2)"/><rect x="-0.12" y="2" width="0.24" height="2" fill="#e8b030" opacity="0.6"/><ellipse cx="-17.53" cy="2.07" rx="0.61" ry="0.85" fill="url(#spot2)" opacity="1.00"/><ellipse cx="-7.42" cy="4.06" rx="0.41" ry="0.57" fill="url(#spotG2)" opacity="0.72"/><ellipse cx="-7.27" cy="0.36" rx="0.41" ry="0.57" fill="url(#spotG2)" opacity="0.78"/><ellipse cx="-3.62" cy="5.89" rx="0.41" ry="0.57" fill="url(#spot2)" opacity="0.96"/><ellipse cx="-3.62" cy="2.06" rx="0.41" ry="0.57" fill="url(#spot2)" opacity="1.00"/><ellipse cx="-3.44" cy="0.49" rx="0.34" ry="0.47" fill="url(#spotG2)" opacity="0.72"/><ellipse cx="-10.49" cy="9.76" rx="0.47" ry="0.66" fill="url(#spotG2)" opacity="0.66"/><ellipse cx="-10.49" cy="5.97" rx="0.41" ry="0.57" fill="url(#spotG2)" opacity="0.66"/><ellipse cx="-10.69" cy="2.07" rx="0.41" ry="0.57" fill="url(#spotG2)" opacity="0.72"/><ellipse cx="-13.12" cy="4.02" rx="0.41" ry="0.57" fill="url(#spotG2)" opacity="0.60"/><ellipse cx="-16.54" cy="5.86" rx="0.41" ry="0.57" fill="url(#spotG2)" opacity="0.60"/><ellipse cx="-14.51" cy="14.53" rx="0.47" ry="0.66" fill="url(#spotG2)" opacity="0.84"/><ellipse cx="-0.18" cy="3.97" rx="0.47" ry="0.66" fill="url(#spot2)" opacity="1.00"/><ellipse cx="3.37" cy="5.89" rx="0.41" ry="0.57" fill="url(#spot2)" opacity="0.96"/><ellipse cx="3.37" cy="2.15" rx="0.41" ry="0.57" fill="url(#spot2)" opacity="1.00"/><ellipse cx="10.1" cy="9.75" rx="0.41" ry="0.57" fill="url(#spotG2)" opacity="0.66"/><ellipse cx="10.1" cy="5.97" rx="0.41" ry="0.57" fill="url(#spotG2)" opacity="0.66"/><ellipse cx="17.79" cy="9.97" rx="0.41" ry="0.57" fill="url(#spotG2)" opacity="0.84"/><ellipse cx="17.18" cy="2.19" rx="0.61" ry="0.85" fill="url(#spot2)" opacity="1.00"/><ellipse cx="19.19" cy="4.02" rx="0.47" ry="0.66" fill="url(#spotG2)" opacity="0.66"/><ellipse cx="7.08" cy="4.02" rx="0.41" ry="0.57" fill="url(#spotG2)" opacity="0.66"/><ellipse cx="10.3" cy="2.07" rx="0.41" ry="0.57" fill="url(#spotG2)" opacity="0.66"/><ellipse cx="7.08" cy="0.37" rx="0.41" ry="0.57" fill="url(#spotG2)" opacity="0.72"/><ellipse cx="9.03" cy="18.16" rx="0.34" ry="0.47" fill="url(#spotG2)" opacity="0.72"/><ellipse cx="11.53" cy="7.8" rx="0.41" ry="0.57" fill="url(#spotG2)" opacity="0.54"/><ellipse cx="-15.3" cy="12.8" rx="0.34" ry="0.47" fill="url(#spotG2)" opacity="0.66"/><ellipse cx="-14.0" cy="7.9" rx="0.41" ry="0.57" fill="url(#spotG2)" opacity="0.54"/><ellipse cx="13.2" cy="4.1" rx="0.41" ry="0.57" fill="url(#spotG2)" opacity="0.54"/><ellipse cx="15.6" cy="6.0" rx="0.41" ry="0.57" fill="url(#spotG2)" opacity="0.54"/><path d="M18.7,2.5 L24,2.5 L24,5.4 L18.7,5.4Z" fill="#3e4888" opacity="0.4" filter="url(#blur2)"/><circle cx="7.67" cy="14.15" r="0.22" fill="#440154" opacity="0.8"/><circle cx="15.9" cy="0.76" r="0.22" fill="#440154" opacity="0.8"/></g><g clip-path="url(#qL2)"><rect x="-40" y="-40" width="80" height="40" fill="#462d7a"/><ellipse cx="0" cy="-3" rx="10" ry="11" fill="url(#glowL2)"/><path d="M-40,0.140 L0,0.140 L0,-0.560 L-40,-0.560Z" fill="#462978" opacity="0.5"/><path d="M0,0.140 L40,0.140 L40,-0.760 L0,-0.610Z" fill="#36598c" opacity="0.7"/></g></g><rect x="683" y="32" width="252" height="385" filter="url(#nz2)" mask="url(#lm2)"/><g transform="matrix(5.2865,4.2604,2.7522,-8.1834,793.0,234.0)"><g clip-path="url(#qL2)"><path d="M-40,-0.560 L-1.2,-0.560 L-2.2,-0.8 L-18.5,-3.9 L-40,-6.5Z" fill="#440154" opacity="0.88"/><path d="M-2.2,-0.8 L-18.5,-3.9 L-40,-6.5 L-40,-7.5 L-18.5,-4.6 L-3,-1.6Z" fill="#440154" opacity="0.4" filter="url(#blur2)"/><g filter="url(#blur2)"><path d="M1.5,-0.56 L40,-0.56 L40,-6.40 L1.5,-1.01Z" fill="#440154" opacity="0.92"/><path d="M1.5,-1.01 L40,-6.40 L40,-8.60 L1.5,-1.29Z" fill="#440154" opacity="0.7"/><path d="M1.5,-1.29 L40,-8.60 L40,-11.20 L1.5,-1.57Z" fill="#440154" opacity="0.45"/><path d="M1.5,-1.57 L40,-11.20 L40,-13.90 L1.5,-1.96Z" fill="#440154" opacity="0.22"/></g><path d="M-18.5,-3.9 Q-8,-2.2 -2.2,-0.8" fill="none" stroke="#2b738e" stroke-width="0.09" opacity="0.6"/><path d="M-10.6,-3.7 Q-5,-2.6 -3.7,-1.4" fill="none" stroke="#277d8e" stroke-width="0.1" opacity="0.7"/><rect x="16.55" y="-2.1" width="0.22" height="1.3" fill="#24848d" opacity="0.8"/><rect x="18.95" y="-3.9" width="0.2" height="0.8" fill="#29788e" opacity="0.7"/></g><ellipse cx="-0.7" cy="0.55" rx="1.45" ry="1.55" fill="#3e2170"/><ellipse cx="-0.7" cy="-0.3" rx="1.35" ry="1.05" fill="#3e2170"/></g></g><path d="M768.59,27.00 L768.83,28.00 L769.07,29.00 L769.31,30.00 L769.55,31.00 L769.79,32.00 L770.03,33.00 L770.26,34.00 L770.50,35.00 L770.73,36.00 L770.96,37.00 L771.19,38.00 L771.42,39.00 L771.65,40.00 L771.87,41.00 L772.10,42.00 L772.32,43.00 L772.54,44.00 L772.76,45.00 L772.98,46.00 L773.20,47.00 L773.42,48.00 L773.64,49.00 L773.85,50.00 L774.06,51.00 L774.27,52.00 L774.48,53.00 L774.69,54.00 L774.90,55.00 L775.11,56.00 L775.31,57.00 L775.52,58.00 L775.72,59.00 L775.92,60.00 L776.12,61.00 L776.32,62.00 L776.52,63.00 L776.72,64.00 L776.91,65.00 L777.11,66.00 L777.30,67.00 L777.49,68.00 L777.68,69.00 L777.87,70.00 L778.06,71.00 L778.24,72.00 L778.43,73.00 L778.61,74.00 L778.80,75.00 L778.98,76.00 L779.16,77.00 L779.34,78.00 L779.51,79.00 L779.69,80.00 L779.87,81.00 L780.04,82.00 L780.21,83.00 L780.38,84.00 L780.56,85.00 L780.72,86.00 L780.89,87.00 L781.06,88.00 L781.23,89.00 L781.39,90.00 L781.55,91.00 L781.71,92.00 L781.88,93.00 L782.03,94.00 L782.19,95.00 L782.35,96.00 L782.51,97.00 L782.66,98.00 L782.81,99.00 L782.97,100.00 L783.12,101.00 L783.27,102.00 L783.42,103.00 L783.56,104.00 L783.71,105.00 L783.86,106.00 L784.00,107.00 L784.14,108.00 L784.29,109.00 L784.43,110.00 L784.56,111.00 L784.70,112.00 L784.84,113.00 L784.98,114.00 L785.11,115.00 L785.24,116.00 L785.38,117.00 L785.51,118.00 L785.64,119.00 L785.77,120.00 L785.89,121.00 L786.02,122.00 L786.14,123.00 L786.27,124.00 L786.39,125.00 L786.51,126.00 L786.63,127.00 L786.75,128.00 L786.87,129.00 L786.99,130.00 L787.10,131.00 L787.22,132.00 L787.33,133.00 L787.45,134.00 L787.56,135.00 L787.67,136.00 L787.78,137.00 L787.88,138.00 L787.99,139.00 L788.10,140.00 L788.20,141.00 L788.30,142.00 L788.41,143.00 L788.51,144.00 L788.61,145.00 L788.71,146.00 L788.80,147.00 L788.90,148.00 L789.00,149.00 L789.09,150.00 L789.18,151.00 L789.27,152.00 L789.37,153.00 L789.45,154.00 L789.54,155.00 L789.63,156.00 L789.72,157.00 L789.80,158.00 L789.89,159.00 L789.97,160.00 L790.05,161.00 L790.13,162.00 L790.21,163.00 L790.29,164.00 L790.37,165.00 L790.44,166.00 L790.52,167.00 L790.59,168.00 L790.66,169.00 L790.73,170.00 L790.81,171.00 L790.87,172.00 L790.94,173.00 L791.01,174.00 L791.08,175.00 L791.14,176.00 L791.20,177.00 L791.27,178.00 L791.33,179.00 L791.39,180.00 L791.45,181.00 L791.51,182.00 L791.56,183.00 L791.62,184.00 L791.67,185.00 L791.73,186.00 L791.78,187.00 L791.83,188.00 L791.88,189.00 L791.93,190.00 L791.98,191.00 L792.03,192.00 L792.07,193.00 L792.12,194.00 L792.16,195.00 L792.20,196.00 L792.24,197.00 L792.28,198.00 L792.32,199.00 L792.36,200.00 L792.40,201.00 L792.44,202.00 L792.47,203.00 L792.50,204.00 L792.54,205.00 L792.57,206.00 L792.60,207.00 L792.63,208.00 L792.66,209.00 L792.68,210.00 L792.71,211.00 L792.73,212.00 L792.76,213.00 L792.78,214.00 L792.80,215.00 L792.82,216.00 L792.84,217.00 L792.86,218.00 L792.88,219.00 L792.89,220.00 L792.91,221.00 L792.92,222.00 L792.93,223.00 L792.94,224.00 L792.96,225.00 L792.96,226.00 L792.97,227.00 L792.98,228.00 L792.99,229.00 L792.99,230.00 L793.00,231.00 L793.00,232.00 L793.00,233.00 L793.00,234.00 L793.00,235.00 L793.00,236.00 L793.00,237.00 L792.99,238.00 L792.99,239.00 L792.98,240.00 L792.97,241.00 L792.96,242.00 L792.96,243.00 L792.94,244.00 L792.93,245.00 L792.92,246.00 L792.91,247.00 L792.89,248.00 L792.88,249.00 L792.86,250.00 L792.84,251.00 L792.82,252.00 L792.80,253.00 L792.78,254.00 L792.76,255.00 L792.73,256.00 L792.71,257.00 L792.68,258.00 L792.66,259.00 L792.63,260.00 L792.60,261.00 L792.57,262.00 L792.54,263.00 L792.50,264.00 L792.47,265.00 L792.44,266.00 L792.40,267.00 L792.36,268.00 L792.32,269.00 L792.28,270.00 L792.24,271.00 L792.20,272.00 L792.16,273.00 L792.12,274.00 L792.07,275.00 L792.03,276.00 L791.98,277.00 L791.93,278.00 L791.88,279.00 L791.83,280.00 L791.78,281.00 L791.73,282.00 L791.67,283.00 L791.62,284.00 L791.56,285.00 L791.51,286.00 L791.45,287.00 L791.39,288.00 L791.33,289.00 L791.27,290.00 L791.20,291.00 L791.14,292.00 L791.08,293.00 L791.01,294.00 L790.94,295.00 L790.87,296.00 L790.81,297.00 L790.73,298.00 L790.66,299.00 L790.59,300.00 L790.52,301.00 L790.44,302.00 L790.37,303.00 L790.29,304.00 L790.21,305.00 L790.13,306.00 L790.05,307.00 L789.97,308.00 L789.89,309.00 L789.80,310.00 L789.72,311.00 L789.63,312.00 L789.54,313.00 L789.45,314.00 L789.37,315.00 L789.27,316.00 L789.18,317.00 L789.09,318.00 L789.00,319.00 L788.90,320.00 L788.80,321.00 L788.71,322.00 L788.61,323.00 L788.51,324.00 L788.41,325.00 L788.30,326.00 L788.20,327.00 L788.10,328.00 L787.99,329.00 L787.88,330.00 L787.78,331.00 L787.67,332.00 L787.56,333.00 L787.45,334.00 L787.33,335.00 L787.22,336.00 L787.10,337.00 L786.99,338.00 L786.87,339.00 L786.75,340.00 L786.63,341.00 L786.51,342.00 L786.39,343.00 L786.27,344.00 L786.14,345.00 L786.02,346.00 L785.89,347.00 L785.77,348.00 L785.64,349.00 L785.51,350.00 L785.38,351.00 L785.24,352.00 L785.11,353.00 L784.98,354.00 L784.84,355.00 L784.70,356.00 L784.56,357.00 L784.43,358.00 L784.29,359.00 L784.14,360.00 L784.00,361.00 L783.86,362.00 L783.71,363.00 L783.56,364.00 L783.42,365.00 L783.27,366.00 L783.12,367.00 L782.97,368.00 L782.81,369.00 L782.66,370.00 L782.51,371.00 L782.35,372.00 L782.19,373.00 L782.03,374.00 L781.88,375.00 L781.71,376.00 L781.55,377.00 L781.39,378.00 L781.23,379.00 L781.06,380.00 L780.89,381.00 L780.72,382.00 L780.56,383.00 L780.38,384.00 L780.21,385.00 L780.04,386.00 L779.87,387.00 L779.69,388.00 L779.51,389.00 L779.34,390.00 L779.16,391.00 L778.98,392.00 L778.80,393.00 L778.61,394.00 L778.43,395.00 L778.24,396.00 L778.06,397.00 L777.87,398.00 L777.68,399.00 L777.49,400.00 L777.30,401.00 L777.11,402.00 L776.91,403.00 L776.72,404.00 L776.52,405.00 L776.32,406.00 L776.12,407.00 L775.92,408.00 L775.72,409.00 L775.52,410.00 L775.31,411.00 L775.11,412.00 L774.90,413.00 L774.69,414.00 L774.48,415.00 L774.27,416.00 L774.06,417.00 L773.85,418.00 L773.64,419.00 L773.42,420.00 L773.20,421.00 L812.80,421.00 L812.58,420.00 L812.36,419.00 L812.15,418.00 L811.94,417.00 L811.73,416.00 L811.52,415.00 L811.31,414.00 L811.10,413.00 L810.89,412.00 L810.69,411.00 L810.48,410.00 L810.28,409.00 L810.08,408.00 L809.88,407.00 L809.68,406.00 L809.48,405.00 L809.28,404.00 L809.09,403.00 L808.89,402.00 L808.70,401.00 L808.51,400.00 L808.32,399.00 L808.13,398.00 L807.94,397.00 L807.76,396.00 L807.57,395.00 L807.39,394.00 L807.20,393.00 L807.02,392.00 L806.84,391.00 L806.66,390.00 L806.49,389.00 L806.31,388.00 L806.13,387.00 L805.96,386.00 L805.79,385.00 L805.62,384.00 L805.44,383.00 L805.28,382.00 L805.11,381.00 L804.94,380.00 L804.77,379.00 L804.61,378.00 L804.45,377.00 L804.29,376.00 L804.12,375.00 L803.97,374.00 L803.81,373.00 L803.65,372.00 L803.49,371.00 L803.34,370.00 L803.19,369.00 L803.03,368.00 L802.88,367.00 L802.73,366.00 L802.58,365.00 L802.44,364.00 L802.29,363.00 L802.14,362.00 L802.00,361.00 L801.86,360.00 L801.71,359.00 L801.57,358.00 L801.44,357.00 L801.30,356.00 L801.16,355.00 L801.02,354.00 L800.89,353.00 L800.76,352.00 L800.62,351.00 L800.49,350.00 L800.36,349.00 L800.23,348.00 L800.11,347.00 L799.98,346.00 L799.86,345.00 L799.73,344.00 L799.61,343.00 L799.49,342.00 L799.37,341.00 L799.25,340.00 L799.13,339.00 L799.01,338.00 L798.90,337.00 L798.78,336.00 L798.67,335.00 L798.55,334.00 L798.44,333.00 L798.33,332.00 L798.22,331.00 L798.12,330.00 L798.01,329.00 L797.90,328.00 L797.80,327.00 L797.70,326.00 L797.59,325.00 L797.49,324.00 L797.39,323.00 L797.29,322.00 L797.20,321.00 L797.10,320.00 L797.00,319.00 L796.91,318.00 L796.82,317.00 L796.73,316.00 L796.63,315.00 L796.55,314.00 L796.46,313.00 L796.37,312.00 L796.28,311.00 L796.20,310.00 L796.11,309.00 L796.03,308.00 L795.95,307.00 L795.87,306.00 L795.79,305.00 L795.71,304.00 L795.63,303.00 L795.56,302.00 L795.48,301.00 L795.41,300.00 L795.34,299.00 L795.27,298.00 L795.19,297.00 L795.13,296.00 L795.06,295.00 L794.99,294.00 L794.92,293.00 L794.86,292.00 L794.80,291.00 L794.73,290.00 L794.67,289.00 L794.61,288.00 L794.55,287.00 L794.49,286.00 L794.44,285.00 L794.38,284.00 L794.33,283.00 L794.27,282.00 L794.22,281.00 L794.17,280.00 L794.12,279.00 L794.07,278.00 L794.02,277.00 L793.97,276.00 L793.93,275.00 L793.88,274.00 L793.84,273.00 L793.80,272.00 L793.76,271.00 L793.72,270.00 L793.68,269.00 L793.64,268.00 L793.60,267.00 L793.56,266.00 L793.53,265.00 L793.50,264.00 L793.46,263.00 L793.43,262.00 L793.40,261.00 L793.37,260.00 L793.34,259.00 L793.32,258.00 L793.29,257.00 L793.27,256.00 L793.24,255.00 L793.22,254.00 L793.20,253.00 L793.18,252.00 L793.16,251.00 L793.14,250.00 L793.12,249.00 L793.11,248.00 L793.09,247.00 L793.08,246.00 L793.07,245.00 L793.06,244.00 L793.04,243.00 L793.04,242.00 L793.03,241.00 L793.02,240.00 L793.01,239.00 L793.01,238.00 L793.00,237.00 L793.00,236.00 L793.00,235.00 L793.00,234.00 L793.00,233.00 L793.00,232.00 L793.00,231.00 L793.01,230.00 L793.01,229.00 L793.02,228.00 L793.03,227.00 L793.04,226.00 L793.04,225.00 L793.06,224.00 L793.07,223.00 L793.08,222.00 L793.09,221.00 L793.11,220.00 L793.12,219.00 L793.14,218.00 L793.16,217.00 L793.18,216.00 L793.20,215.00 L793.22,214.00 L793.24,213.00 L793.27,212.00 L793.29,211.00 L793.32,210.00 L793.34,209.00 L793.37,208.00 L793.40,207.00 L793.43,206.00 L793.46,205.00 L793.50,204.00 L793.53,203.00 L793.56,202.00 L793.60,201.00 L793.64,200.00 L793.68,199.00 L793.72,198.00 L793.76,197.00 L793.80,196.00 L793.84,195.00 L793.88,194.00 L793.93,193.00 L793.97,192.00 L794.02,191.00 L794.07,190.00 L794.12,189.00 L794.17,188.00 L794.22,187.00 L794.27,186.00 L794.33,185.00 L794.38,184.00 L794.44,183.00 L794.49,182.00 L794.55,181.00 L794.61,180.00 L794.67,179.00 L794.73,178.00 L794.80,177.00 L794.86,176.00 L794.92,175.00 L794.99,174.00 L795.06,173.00 L795.13,172.00 L795.19,171.00 L795.27,170.00 L795.34,169.00 L795.41,168.00 L795.48,167.00 L795.56,166.00 L795.63,165.00 L795.71,164.00 L795.79,163.00 L795.87,162.00 L795.95,161.00 L796.03,160.00 L796.11,159.00 L796.20,158.00 L796.28,157.00 L796.37,156.00 L796.46,155.00 L796.55,154.00 L796.63,153.00 L796.73,152.00 L796.82,151.00 L796.91,150.00 L797.00,149.00 L797.10,148.00 L797.20,147.00 L797.29,146.00 L797.39,145.00 L797.49,144.00 L797.59,143.00 L797.70,142.00 L797.80,141.00 L797.90,140.00 L798.01,139.00 L798.12,138.00 L798.22,137.00 L798.33,136.00 L798.44,135.00 L798.55,134.00 L798.67,133.00 L798.78,132.00 L798.90,131.00 L799.01,130.00 L799.13,129.00 L799.25,128.00 L799.37,127.00 L799.49,126.00 L799.61,125.00 L799.73,124.00 L799.86,123.00 L799.98,122.00 L800.11,121.00 L800.23,120.00 L800.36,119.00 L800.49,118.00 L800.62,117.00 L800.76,116.00 L800.89,115.00 L801.02,114.00 L801.16,113.00 L801.30,112.00 L801.44,111.00 L801.57,110.00 L801.71,109.00 L801.86,108.00 L802.00,107.00 L802.14,106.00 L802.29,105.00 L802.44,104.00 L802.58,103.00 L802.73,102.00 L802.88,101.00 L803.03,100.00 L803.19,99.00 L803.34,98.00 L803.49,97.00 L803.65,96.00 L803.81,95.00 L803.97,94.00 L804.12,93.00 L804.29,92.00 L804.45,91.00 L804.61,90.00 L804.77,89.00 L804.94,88.00 L805.11,87.00 L805.28,86.00 L805.44,85.00 L805.62,84.00 L805.79,83.00 L805.96,82.00 L806.13,81.00 L806.31,80.00 L806.49,79.00 L806.66,78.00 L806.84,77.00 L807.02,76.00 L807.20,75.00 L807.39,74.00 L807.57,73.00 L807.76,72.00 L807.94,71.00 L808.13,70.00 L808.32,69.00 L808.51,68.00 L808.70,67.00 L808.89,66.00 L809.09,65.00 L809.28,64.00 L809.48,63.00 L809.68,62.00 L809.88,61.00 L810.08,60.00 L810.28,59.00 L810.48,58.00 L810.69,57.00 L810.89,56.00 L811.10,55.00 L811.31,54.00 L811.52,53.00 L811.73,52.00 L811.94,51.00 L812.15,50.00 L812.36,49.00 L812.58,48.00 L812.80,47.00 L813.02,46.00 L813.24,45.00 L813.46,44.00 L813.68,43.00 L813.90,42.00 L814.13,41.00 L814.35,40.00 L814.58,39.00 L814.81,38.00 L815.04,37.00 L815.27,36.00 L815.50,35.00 L815.74,34.00 L815.97,33.00 L816.21,32.00 L816.45,31.00 L816.69,30.00 L816.93,29.00 L817.17,28.00 L817.41,27.00Z" fill="#440154"/><g transform="matrix(5.2865,4.2604,2.7522,-8.1834,793.0,234.0)"><rect x="-0.1" y="2.0" width="0.2" height="1.9" fill="#d8a030" opacity="0.8"/><ellipse cx="-0.05" cy="3.97" rx="0.6" ry="0.5" fill="url(#spot2)"/><ellipse cx="0" cy="-3.6" rx="0.3" ry="0.25" fill="url(#spot2)"/></g></g>
<rect x="683.5" y="32.5" width="252" height="385" fill="none" stroke="#000" stroke-width="1.1"/>
<line x1="733.40" y1="417.5" x2="733.40" y2="422.4" stroke="#000" stroke-width="1.1"/>
<text transform="translate(719.50,438.05) scale(1.0341,1)" font-size="15.40">−10</text>
<line x1="793.00" y1="417.5" x2="793.00" y2="422.4" stroke="#000" stroke-width="1.1"/>
<text transform="translate(790.50,438.05) scale(0.8178,1)" font-size="15.40">0</text>
<line x1="852.60" y1="417.5" x2="852.60" y2="422.4" stroke="#000" stroke-width="1.1"/>
<text transform="translate(844.50,438.05) scale(0.8762,1)" font-size="15.40">10</text>
<line x1="912.20" y1="417.5" x2="912.20" y2="422.4" stroke="#000" stroke-width="1.1"/>
<text transform="translate(903.50,438.05) scale(0.9346,1)" font-size="15.40">20</text>
<line x1="683.5" y1="49.48" x2="678.6" y2="49.48" stroke="#000" stroke-width="1.1"/>
<text transform="translate(656.50,55.05) scale(0.9346,1)" font-size="15.40">20</text>
<line x1="683.5" y1="95.61" x2="678.6" y2="95.61" stroke="#000" stroke-width="1.1"/>
<text transform="translate(656.50,101.04) scale(0.8638,1)" font-size="15.62">15</text>
<line x1="683.5" y1="141.74" x2="678.6" y2="141.74" stroke="#000" stroke-width="1.1"/>
<text transform="translate(656.50,147.05) scale(0.8762,1)" font-size="15.40">10</text>
<line x1="683.5" y1="187.87" x2="678.6" y2="187.87" stroke="#000" stroke-width="1.1"/>
<text transform="translate(665.50,193.04) scale(0.8062,1)" font-size="15.62">5</text>
<line x1="683.5" y1="234.00" x2="678.6" y2="234.00" stroke="#000" stroke-width="1.1"/>
<text transform="translate(665.50,240.05) scale(0.8178,1)" font-size="15.40">0</text>
<line x1="683.5" y1="280.13" x2="678.6" y2="280.13" stroke="#000" stroke-width="1.1"/>
<text transform="translate(653.50,286.04) scale(0.9549,1)" font-size="15.62">−5</text>
<line x1="683.5" y1="326.26" x2="678.6" y2="326.26" stroke="#000" stroke-width="1.1"/>
<text transform="translate(644.50,332.05) scale(1.0341,1)" font-size="15.40">−10</text>
<line x1="683.5" y1="372.39" x2="678.6" y2="372.39" stroke="#000" stroke-width="1.1"/>
<text transform="translate(644.50,378.04) scale(0.9817,1)" font-size="15.62">−15</text>
<text transform="translate(722.00,22.86) scale(1.1010,1)" font-size="17.60">η=0.0 rad, χ=0.5 rad</text>
<text transform="translate(711.50,461) scale(1.0789,1)" font-size="14.7">Scattering vector</text>
<text transform="translate(834.50,461) scale(0.9788,1)" font-size="14.7" font-style="italic">q</text>
<text transform="translate(843.50,463.5) scale(0.9246,1)" font-size="10.3" font-style="italic">IP</text>
<text transform="translate(857.50,461) scale(0.6129,1)" font-size="14.7">(</text>
<text transform="translate(862.50,461) scale(1.0285,1)" font-size="14.7" font-style="italic">nm</text>
<text transform="translate(886.50,455.5) scale(0.9975,1)" font-size="10.3">−</text>
<text transform="translate(894.50,455.5) scale(0.8731,1)" font-size="10.3">1</text>
<text transform="translate(900.50,461) scale(0.6129,1)" font-size="14.7">)</text>
<rect x="986" y="32" width="253" height="385" fill="#440154"/>
<g clip-path="url(#ax3)"><g clip-path="url(#cov3)"><g transform="matrix(5.3131,4.2761,2.7661,-8.2136,1096.4,236.6)"><g clip-path="url(#qU3)"><rect x="-40" y="0" width="80" height="40" fill="#31648d"/><circle cx="0" cy="0" r="26" fill="url(#broadU3)"/><rect x="-40" y="0" width="80" height="2.50" fill="#25828d" opacity="0.45"/><ellipse cx="0" cy="0" rx="12" ry="9" fill="url(#glowU3)" transform="scale(1)" /><rect x="-7.47" y="0" width="0.24" height="23" fill="#29ac80" opacity="0.5" filter="url(#blurS3)"/><rect x="6.88" y="0" width="0.24" height="21" fill="#29ac80" opacity="0.5" filter="url(#blurS3)"/><rect x="-16.50" y="0" width="0.21" height="9" fill="#219989" opacity="0.5" filter="url(#blurS3)"/><rect x="-14.80" y="0" width="0.21" height="8" fill="#219989" opacity="0.5" filter="url(#blurS3)"/><rect x="15.79" y="0" width="0.21" height="12" fill="#219989" opacity="0.5" filter="url(#blurS3)"/><rect x="-10.61" y="0" width="0.21" height="13" fill="#21978a" opacity="0.5" filter="url(#blurS3)"/><rect x="10.09" y="0" width="0.21" height="14" fill="#21978a" opacity="0.5" filter="url(#blurS3)"/><rect x="-3.60" y="0" width="0.21" height="7" fill="#21a086" opacity="0.5" filter="url(#blurS3)"/><rect x="3.29" y="0" width="0.21" height="7" fill="#21a086" opacity="0.5" filter="url(#blurS3)"/><rect x="19.20" y="0" width="0.21" height="7" fill="#21978a" opacity="0.5" filter="url(#blurS3)"/><rect x="-12.99" y="0" width="0.17" height="6" fill="#21978a" opacity="0.5" filter="url(#blurS3)"/><path d="M-2.2,0 A2.2,2.2 0 0 0 2.2,0" fill="none" stroke="#4fc26a" stroke-width="0.1" opacity="0.5"/><path d="M-2.6,0 A2.6,2.6 0 0 0 2.6,0" fill="none" stroke="#64c95d" stroke-width="0.1" opacity="0.6"/><path d="M-3.1,0 A3.1,3.1 0 0 0 3.1,0" fill="none" stroke="#94d640" stroke-width="0.12" opacity="0.9"/><path d="M-3.45,0 A3.45,3.45 0 0 0 3.45,0" fill="none" stroke="#44be70" stroke-width="0.09" opacity="0.65"/><path d="M-3.9,0 A3.9,3.9 0 0 0 3.9,0" fill="none" stroke="#29ac80" stroke-width="0.08" opacity="0.45"/><path d="M-11,14.5 A18.2,18.2 0 0 0 10.5,14.87" fill="none" stroke="#20908c" stroke-width="0.3" opacity="0.6" filter="url(#blurS3)"/><rect x="-0.12" y="2" width="0.24" height="2" fill="#e8b030" opacity="0.6"/><ellipse cx="-17.53" cy="2.07" rx="0.61" ry="0.85" fill="url(#spot3)" opacity="1.00"/><ellipse cx="-7.42" cy="4.06" rx="0.41" ry="0.57" fill="url(#spotG3)" opacity="0.72"/><ellipse cx="-7.27" cy="0.36" rx="0.41" ry="0.57" fill="url(#spotG3)" opacity="0.78"/><ellipse cx="-3.62" cy="5.89" rx="0.41" ry="0.57" fill="url(#spot3)" opacity="0.96"/><ellipse cx="-3.62" cy="2.06" rx="0.41" ry="0.57" fill="url(#spot3)" opacity="1.00"/><ellipse cx="-3.44" cy="0.49" rx="0.34" ry="0.47" fill="url(#spotG3)" opacity="0.72"/><ellipse cx="-10.49" cy="9.76" rx="0.47" ry="0.66" fill="url(#spotG3)" opacity="0.66"/><ellipse cx="-10.49" cy="5.97" rx="0.41" ry="0.57" fill="url(#spotG3)" opacity="0.66"/><ellipse cx="-10.69" cy="2.07" rx="0.41" ry="0.57" fill="url(#spotG3)" opacity="0.72"/><ellipse cx="-13.12" cy="4.02" rx="0.41" ry="0.57" fill="url(#spotG3)" opacity="0.60"/><ellipse cx="-16.54" cy="5.86" rx="0.41" ry="0.57" fill="url(#spotG3)" opacity="0.60"/><ellipse cx="-14.51" cy="14.53" rx="0.47" ry="0.66" fill="url(#spotG3)" opacity="0.84"/><ellipse cx="-0.18" cy="3.97" rx="0.47" ry="0.66" fill="url(#spot3)" opacity="1.00"/><ellipse cx="3.37" cy="5.89" rx="0.41" ry="0.57" fill="url(#spot3)" opacity="0.96"/><ellipse cx="3.37" cy="2.15" rx="0.41" ry="0.57" fill="url(#spot3)" opacity="1.00"/><ellipse cx="10.1" cy="9.75" rx="0.41" ry="0.57" fill="url(#spotG3)" opacity="0.66"/><ellipse cx="10.1" cy="5.97" rx="0.41" ry="0.57" fill="url(#spotG3)" opacity="0.66"/><ellipse cx="17.79" cy="9.97" rx="0.41" ry="0.57" fill="url(#spotG3)" opacity="0.84"/><ellipse cx="17.18" cy="2.19" rx="0.61" ry="0.85" fill="url(#spot3)" opacity="1.00"/><ellipse cx="19.19" cy="4.02" rx="0.47" ry="0.66" fill="url(#spotG3)" opacity="0.66"/><ellipse cx="7.08" cy="4.02" rx="0.41" ry="0.57" fill="url(#spotG3)" opacity="0.66"/><ellipse cx="10.3" cy="2.07" rx="0.41" ry="0.57" fill="url(#spotG3)" opacity="0.66"/><ellipse cx="7.08" cy="0.37" rx="0.41" ry="0.57" fill="url(#spotG3)" opacity="0.72"/><ellipse cx="9.03" cy="18.16" rx="0.34" ry="0.47" fill="url(#spotG3)" opacity="0.72"/><ellipse cx="11.53" cy="7.8" rx="0.41" ry="0.57" fill="url(#spotG3)" opacity="0.54"/><ellipse cx="-15.3" cy="12.8" rx="0.34" ry="0.47" fill="url(#spotG3)" opacity="0.66"/><ellipse cx="-14.0" cy="7.9" rx="0.41" ry="0.57" fill="url(#spotG3)" opacity="0.54"/><ellipse cx="13.2" cy="4.1" rx="0.41" ry="0.57" fill="url(#spotG3)" opacity="0.54"/><ellipse cx="15.6" cy="6.0" rx="0.41" ry="0.57" fill="url(#spotG3)" opacity="0.54"/><path d="M18.7,2.5 L24,2.5 L24,5.4 L18.7,5.4Z" fill="#3e4888" opacity="0.4" filter="url(#blur3)"/><circle cx="7.67" cy="14.15" r="0.22" fill="#440154" opacity="0.8"/><circle cx="15.9" cy="0.76" r="0.22" fill="#440154" opacity="0.8"/></g><g clip-path="url(#qL3)"><rect x="-40" y="-40" width="80" height="40" fill="#462d7a"/><ellipse cx="0" cy="-3" rx="10" ry="11" fill="url(#glowL3)"/><path d="M-40,0.300 L0,0.300 L0,-0.400 L-40,-0.400Z" fill="#462978" opacity="0.5"/><path d="M0,0.300 L40,0.300 L40,-0.600 L0,-0.450Z" fill="#36598c" opacity="0.7"/></g></g><rect x="986" y="32" width="253" height="385" filter="url(#nz3)" mask="url(#lm3)"/><g transform="matrix(5.3131,4.2761,2.7661,-8.2136,1096.4,236.6)"><g clip-path="url(#qL3)"><path d="M-40,-0.400 L-1.2,-0.400 L-2.2,-0.8 L-18.5,-3.9 L-40,-6.5Z" fill="#440154" opacity="0.88"/><path d="M-2.2,-0.8 L-18.5,-3.9 L-40,-6.5 L-40,-7.5 L-18.5,-4.6 L-3,-1.6Z" fill="#440154" opacity="0.4" filter="url(#blur3)"/><g filter="url(#blur3)"><path d="M1.5,-0.40 L40,-0.40 L40,-6.40 L1.5,-1.01Z" fill="#440154" opacity="0.92"/><path d="M1.5,-1.01 L40,-6.40 L40,-8.60 L1.5,-1.29Z" fill="#440154" opacity="0.7"/><path d="M1.5,-1.29 L40,-8.60 L40,-11.20 L1.5,-1.57Z" fill="#440154" opacity="0.45"/><path d="M1.5,-1.57 L40,-11.20 L40,-13.90 L1.5,-1.96Z" fill="#440154" opacity="0.22"/></g><path d="M-18.5,-3.9 Q-8,-2.2 -2.2,-0.8" fill="none" stroke="#2b738e" stroke-width="0.09" opacity="0.6"/><path d="M-10.6,-3.7 Q-5,-2.6 -3.7,-1.4" fill="none" stroke="#277d8e" stroke-width="0.1" opacity="0.7"/><rect x="16.55" y="-2.1" width="0.22" height="1.3" fill="#24848d" opacity="0.8"/><rect x="18.95" y="-3.9" width="0.2" height="0.8" fill="#29788e" opacity="0.7"/></g><ellipse cx="-0.7" cy="0.55" rx="1.45" ry="1.55" fill="#3e2170"/><ellipse cx="-0.7" cy="-0.3" rx="1.35" ry="1.05" fill="#3e2170"/></g></g><path d="M1083.99,27.00 L1084.17,28.00 L1084.35,29.00 L1084.53,30.00 L1084.70,31.00 L1084.88,32.00 L1085.05,33.00 L1085.22,34.00 L1085.39,35.00 L1085.56,36.00 L1085.73,37.00 L1085.90,38.00 L1086.06,39.00 L1086.23,40.00 L1086.39,41.00 L1086.55,42.00 L1086.72,43.00 L1086.88,44.00 L1087.03,45.00 L1087.19,46.00 L1087.35,47.00 L1087.50,48.00 L1087.66,49.00 L1087.81,50.00 L1087.96,51.00 L1088.11,52.00 L1088.26,53.00 L1088.41,54.00 L1088.55,55.00 L1088.70,56.00 L1088.84,57.00 L1088.99,58.00 L1089.13,59.00 L1089.27,60.00 L1089.41,61.00 L1089.55,62.00 L1089.69,63.00 L1089.82,64.00 L1089.96,65.00 L1090.09,66.00 L1090.22,67.00 L1090.35,68.00 L1090.48,69.00 L1090.61,70.00 L1090.74,71.00 L1090.87,72.00 L1090.99,73.00 L1091.12,74.00 L1091.24,75.00 L1091.36,76.00 L1091.48,77.00 L1091.60,78.00 L1091.72,79.00 L1091.84,80.00 L1091.96,81.00 L1092.07,82.00 L1092.18,83.00 L1092.30,84.00 L1092.41,85.00 L1092.52,86.00 L1092.63,87.00 L1092.74,88.00 L1092.84,89.00 L1092.95,90.00 L1093.05,91.00 L1093.16,92.00 L1093.26,93.00 L1093.36,94.00 L1093.46,95.00 L1093.56,96.00 L1093.66,97.00 L1093.76,98.00 L1093.85,99.00 L1093.95,100.00 L1094.04,101.00 L1094.13,102.00 L1094.22,103.00 L1094.31,104.00 L1094.40,105.00 L1094.49,106.00 L1094.58,107.00 L1094.66,108.00 L1094.75,109.00 L1094.83,110.00 L1094.91,111.00 L1094.99,112.00 L1095.07,113.00 L1095.15,114.00 L1095.23,115.00 L1095.30,116.00 L1095.38,117.00 L1095.45,118.00 L1095.53,119.00 L1095.60,120.00 L1095.67,121.00 L1095.74,122.00 L1095.81,123.00 L1095.88,124.00 L1095.94,125.00 L1096.01,126.00 L1096.07,127.00 L1096.13,128.00 L1096.20,129.00 L1096.26,130.00 L1096.32,131.00 L1096.38,132.00 L1096.37,133.00 L1096.31,134.00 L1096.26,135.00 L1096.20,136.00 L1096.15,137.00 L1096.10,138.00 L1096.05,139.00 L1096.00,140.00 L1095.95,141.00 L1095.90,142.00 L1095.85,143.00 L1095.81,144.00 L1095.76,145.00 L1095.72,146.00 L1095.68,147.00 L1095.64,148.00 L1095.60,149.00 L1095.56,150.00 L1095.52,151.00 L1095.49,152.00 L1095.45,153.00 L1095.42,154.00 L1095.38,155.00 L1095.35,156.00 L1095.32,157.00 L1095.29,158.00 L1095.26,159.00 L1095.24,160.00 L1095.21,161.00 L1095.18,162.00 L1095.16,163.00 L1095.14,164.00 L1095.11,165.00 L1095.09,166.00 L1095.07,167.00 L1095.05,168.00 L1095.04,169.00 L1095.02,170.00 L1095.01,171.00 L1094.99,172.00 L1094.98,173.00 L1094.97,174.00 L1094.95,175.00 L1094.94,176.00 L1094.94,177.00 L1094.93,178.00 L1094.92,179.00 L1094.92,180.00 L1094.91,181.00 L1094.91,182.00 L1094.91,183.00 L1094.90,184.00 L1094.90,185.00 L1094.91,186.00 L1094.91,187.00 L1094.91,188.00 L1094.92,189.00 L1094.92,190.00 L1094.93,191.00 L1094.94,192.00 L1094.94,193.00 L1094.95,194.00 L1094.97,195.00 L1094.98,196.00 L1094.99,197.00 L1095.00,198.00 L1095.02,199.00 L1095.04,200.00 L1095.05,201.00 L1095.07,202.00 L1095.09,203.00 L1095.11,204.00 L1095.14,205.00 L1095.16,206.00 L1095.18,207.00 L1095.21,208.00 L1095.23,209.00 L1095.26,210.00 L1095.29,211.00 L1095.32,212.00 L1095.35,213.00 L1095.38,214.00 L1095.42,215.00 L1095.45,216.00 L1095.49,217.00 L1095.52,218.00 L1095.56,219.00 L1095.60,220.00 L1095.64,221.00 L1095.68,222.00 L1095.72,223.00 L1095.76,224.00 L1095.81,225.00 L1095.85,226.00 L1095.90,227.00 L1095.95,228.00 L1095.99,229.00 L1096.04,230.00 L1096.10,231.00 L1096.15,232.00 L1096.20,233.00 L1096.25,234.00 L1096.31,235.00 L1096.37,236.00 L1096.38,237.00 L1096.32,238.00 L1096.26,239.00 L1096.20,240.00 L1096.14,241.00 L1096.07,242.00 L1096.01,243.00 L1095.94,244.00 L1095.88,245.00 L1095.81,246.00 L1095.74,247.00 L1095.67,248.00 L1095.60,249.00 L1095.53,250.00 L1095.46,251.00 L1095.38,252.00 L1095.31,253.00 L1095.23,254.00 L1095.15,255.00 L1095.07,256.00 L1094.99,257.00 L1094.91,258.00 L1094.83,259.00 L1094.75,260.00 L1094.66,261.00 L1094.58,262.00 L1094.49,263.00 L1094.40,264.00 L1094.32,265.00 L1094.23,266.00 L1094.13,267.00 L1094.04,268.00 L1093.95,269.00 L1093.85,270.00 L1093.76,271.00 L1093.66,272.00 L1093.56,273.00 L1093.46,274.00 L1093.36,275.00 L1093.26,276.00 L1093.16,277.00 L1093.06,278.00 L1092.95,279.00 L1092.85,280.00 L1092.74,281.00 L1092.63,282.00 L1092.52,283.00 L1092.41,284.00 L1092.30,285.00 L1092.19,286.00 L1092.07,287.00 L1091.96,288.00 L1091.84,289.00 L1091.72,290.00 L1091.61,291.00 L1091.49,292.00 L1091.37,293.00 L1091.24,294.00 L1091.12,295.00 L1091.00,296.00 L1090.87,297.00 L1090.74,298.00 L1090.62,299.00 L1090.49,300.00 L1090.36,301.00 L1090.23,302.00 L1090.09,303.00 L1089.96,304.00 L1089.82,305.00 L1089.69,306.00 L1089.55,307.00 L1089.41,308.00 L1089.27,309.00 L1089.13,310.00 L1088.99,311.00 L1088.85,312.00 L1088.70,313.00 L1088.56,314.00 L1088.41,315.00 L1088.26,316.00 L1088.11,317.00 L1087.96,318.00 L1087.81,319.00 L1087.66,320.00 L1087.51,321.00 L1087.35,322.00 L1087.20,323.00 L1087.04,324.00 L1086.88,325.00 L1086.72,326.00 L1086.56,327.00 L1086.40,328.00 L1086.23,329.00 L1086.07,330.00 L1085.90,331.00 L1085.74,332.00 L1085.57,333.00 L1085.40,334.00 L1085.23,335.00 L1085.06,336.00 L1084.88,337.00 L1084.71,338.00 L1084.53,339.00 L1084.36,340.00 L1084.18,341.00 L1084.00,342.00 L1083.82,343.00 L1083.64,344.00 L1083.45,345.00 L1083.27,346.00 L1083.08,347.00 L1082.90,348.00 L1082.71,349.00 L1082.52,350.00 L1082.33,351.00 L1082.14,352.00 L1081.95,353.00 L1081.75,354.00 L1081.56,355.00 L1081.36,356.00 L1081.16,357.00 L1080.96,358.00 L1080.76,359.00 L1080.56,360.00 L1080.36,361.00 L1080.15,362.00 L1079.95,363.00 L1079.74,364.00 L1079.53,365.00 L1079.32,366.00 L1079.11,367.00 L1078.90,368.00 L1078.69,369.00 L1078.47,370.00 L1078.26,371.00 L1078.04,372.00 L1077.82,373.00 L1077.60,374.00 L1077.38,375.00 L1077.16,376.00 L1076.94,377.00 L1076.71,378.00 L1076.49,379.00 L1076.26,380.00 L1076.03,381.00 L1075.80,382.00 L1075.57,383.00 L1075.34,384.00 L1075.10,385.00 L1074.87,386.00 L1074.63,387.00 L1074.39,388.00 L1074.15,389.00 L1073.91,390.00 L1073.67,391.00 L1073.43,392.00 L1073.18,393.00 L1072.94,394.00 L1072.69,395.00 L1072.44,396.00 L1072.19,397.00 L1071.94,398.00 L1071.69,399.00 L1071.43,400.00 L1071.18,401.00 L1070.92,402.00 L1070.66,403.00 L1070.40,404.00 L1070.14,405.00 L1069.88,406.00 L1069.62,407.00 L1069.35,408.00 L1069.08,409.00 L1068.82,410.00 L1068.55,411.00 L1068.28,412.00 L1068.00,413.00 L1067.73,414.00 L1067.46,415.00 L1067.18,416.00 L1066.90,417.00 L1066.62,418.00 L1066.34,419.00 L1066.06,420.00 L1065.78,421.00 L1127.02,421.00 L1126.74,420.00 L1126.46,419.00 L1126.18,418.00 L1125.90,417.00 L1125.62,416.00 L1125.34,415.00 L1125.07,414.00 L1124.80,413.00 L1124.52,412.00 L1124.25,411.00 L1123.98,410.00 L1123.72,409.00 L1123.45,408.00 L1123.18,407.00 L1122.92,406.00 L1122.66,405.00 L1122.40,404.00 L1122.14,403.00 L1121.88,402.00 L1121.62,401.00 L1121.37,400.00 L1121.11,399.00 L1120.86,398.00 L1120.61,397.00 L1120.36,396.00 L1120.11,395.00 L1119.86,394.00 L1119.62,393.00 L1119.37,392.00 L1119.13,391.00 L1118.89,390.00 L1118.65,389.00 L1118.41,388.00 L1118.17,387.00 L1117.93,386.00 L1117.70,385.00 L1117.46,384.00 L1117.23,383.00 L1117.00,382.00 L1116.77,381.00 L1116.54,380.00 L1116.31,379.00 L1116.09,378.00 L1115.86,377.00 L1115.64,376.00 L1115.42,375.00 L1115.20,374.00 L1114.98,373.00 L1114.76,372.00 L1114.54,371.00 L1114.33,370.00 L1114.11,369.00 L1113.90,368.00 L1113.69,367.00 L1113.48,366.00 L1113.27,365.00 L1113.06,364.00 L1112.85,363.00 L1112.65,362.00 L1112.44,361.00 L1112.24,360.00 L1112.04,359.00 L1111.84,358.00 L1111.64,357.00 L1111.44,356.00 L1111.24,355.00 L1111.05,354.00 L1110.85,353.00 L1110.66,352.00 L1110.47,351.00 L1110.28,350.00 L1110.09,349.00 L1109.90,348.00 L1109.72,347.00 L1109.53,346.00 L1109.35,345.00 L1109.16,344.00 L1108.98,343.00 L1108.80,342.00 L1108.62,341.00 L1108.44,340.00 L1108.27,339.00 L1108.09,338.00 L1107.92,337.00 L1107.74,336.00 L1107.57,335.00 L1107.40,334.00 L1107.23,333.00 L1107.06,332.00 L1106.90,331.00 L1106.73,330.00 L1106.57,329.00 L1106.40,328.00 L1106.24,327.00 L1106.08,326.00 L1105.92,325.00 L1105.76,324.00 L1105.60,323.00 L1105.45,322.00 L1105.29,321.00 L1105.14,320.00 L1104.99,319.00 L1104.84,318.00 L1104.69,317.00 L1104.54,316.00 L1104.39,315.00 L1104.24,314.00 L1104.10,313.00 L1103.95,312.00 L1103.81,311.00 L1103.67,310.00 L1103.53,309.00 L1103.39,308.00 L1103.25,307.00 L1103.11,306.00 L1102.98,305.00 L1102.84,304.00 L1102.71,303.00 L1102.57,302.00 L1102.44,301.00 L1102.31,300.00 L1102.18,299.00 L1102.06,298.00 L1101.93,297.00 L1101.80,296.00 L1101.68,295.00 L1101.56,294.00 L1101.43,293.00 L1101.31,292.00 L1101.19,291.00 L1101.08,290.00 L1100.96,289.00 L1100.84,288.00 L1100.73,287.00 L1100.61,286.00 L1100.50,285.00 L1100.39,284.00 L1100.28,283.00 L1100.17,282.00 L1100.06,281.00 L1099.95,280.00 L1099.85,279.00 L1099.74,278.00 L1099.64,277.00 L1099.54,276.00 L1099.44,275.00 L1099.34,274.00 L1099.24,273.00 L1099.14,272.00 L1099.04,271.00 L1098.95,270.00 L1098.85,269.00 L1098.76,268.00 L1098.67,267.00 L1098.57,266.00 L1098.48,265.00 L1098.40,264.00 L1098.31,263.00 L1098.22,262.00 L1098.14,261.00 L1098.05,260.00 L1097.97,259.00 L1097.89,258.00 L1097.81,257.00 L1097.73,256.00 L1097.65,255.00 L1097.57,254.00 L1097.49,253.00 L1097.42,252.00 L1097.34,251.00 L1097.27,250.00 L1097.20,249.00 L1097.13,248.00 L1097.06,247.00 L1096.99,246.00 L1096.92,245.00 L1096.86,244.00 L1096.79,243.00 L1096.73,242.00 L1096.66,241.00 L1096.60,240.00 L1096.54,239.00 L1096.48,238.00 L1096.42,237.00 L1096.43,236.00 L1096.49,235.00 L1096.55,234.00 L1096.60,233.00 L1096.65,232.00 L1096.70,231.00 L1096.76,230.00 L1096.81,229.00 L1096.85,228.00 L1096.90,227.00 L1096.95,226.00 L1096.99,225.00 L1097.04,224.00 L1097.08,223.00 L1097.12,222.00 L1097.16,221.00 L1097.20,220.00 L1097.24,219.00 L1097.28,218.00 L1097.31,217.00 L1097.35,216.00 L1097.38,215.00 L1097.42,214.00 L1097.45,213.00 L1097.48,212.00 L1097.51,211.00 L1097.54,210.00 L1097.57,209.00 L1097.59,208.00 L1097.62,207.00 L1097.64,206.00 L1097.66,205.00 L1097.69,204.00 L1097.71,203.00 L1097.73,202.00 L1097.75,201.00 L1097.76,200.00 L1097.78,199.00 L1097.80,198.00 L1097.81,197.00 L1097.82,196.00 L1097.83,195.00 L1097.85,194.00 L1097.86,193.00 L1097.86,192.00 L1097.87,191.00 L1097.88,190.00 L1097.88,189.00 L1097.89,188.00 L1097.89,187.00 L1097.89,186.00 L1097.90,185.00 L1097.90,184.00 L1097.89,183.00 L1097.89,182.00 L1097.89,181.00 L1097.88,180.00 L1097.88,179.00 L1097.87,178.00 L1097.86,177.00 L1097.86,176.00 L1097.85,175.00 L1097.83,174.00 L1097.82,173.00 L1097.81,172.00 L1097.79,171.00 L1097.78,170.00 L1097.76,169.00 L1097.75,168.00 L1097.73,167.00 L1097.71,166.00 L1097.69,165.00 L1097.66,164.00 L1097.64,163.00 L1097.62,162.00 L1097.59,161.00 L1097.56,160.00 L1097.54,159.00 L1097.51,158.00 L1097.48,157.00 L1097.45,156.00 L1097.42,155.00 L1097.38,154.00 L1097.35,153.00 L1097.31,152.00 L1097.28,151.00 L1097.24,150.00 L1097.20,149.00 L1097.16,148.00 L1097.12,147.00 L1097.08,146.00 L1097.04,145.00 L1096.99,144.00 L1096.95,143.00 L1096.90,142.00 L1096.85,141.00 L1096.80,140.00 L1096.75,139.00 L1096.70,138.00 L1096.65,137.00 L1096.60,136.00 L1096.54,135.00 L1096.49,134.00 L1096.43,133.00 L1096.42,132.00 L1096.48,131.00 L1096.54,130.00 L1096.60,129.00 L1096.67,128.00 L1096.73,127.00 L1096.79,126.00 L1096.86,125.00 L1096.92,124.00 L1096.99,123.00 L1097.06,122.00 L1097.13,121.00 L1097.20,120.00 L1097.27,119.00 L1097.35,118.00 L1097.42,117.00 L1097.50,116.00 L1097.57,115.00 L1097.65,114.00 L1097.73,113.00 L1097.81,112.00 L1097.89,111.00 L1097.97,110.00 L1098.05,109.00 L1098.14,108.00 L1098.22,107.00 L1098.31,106.00 L1098.40,105.00 L1098.49,104.00 L1098.58,103.00 L1098.67,102.00 L1098.76,101.00 L1098.85,100.00 L1098.95,99.00 L1099.04,98.00 L1099.14,97.00 L1099.24,96.00 L1099.34,95.00 L1099.44,94.00 L1099.54,93.00 L1099.64,92.00 L1099.75,91.00 L1099.85,90.00 L1099.96,89.00 L1100.06,88.00 L1100.17,87.00 L1100.28,86.00 L1100.39,85.00 L1100.50,84.00 L1100.62,83.00 L1100.73,82.00 L1100.84,81.00 L1100.96,80.00 L1101.08,79.00 L1101.20,78.00 L1101.32,77.00 L1101.44,76.00 L1101.56,75.00 L1101.68,74.00 L1101.81,73.00 L1101.93,72.00 L1102.06,71.00 L1102.19,70.00 L1102.32,69.00 L1102.45,68.00 L1102.58,67.00 L1102.71,66.00 L1102.84,65.00 L1102.98,64.00 L1103.11,63.00 L1103.25,62.00 L1103.39,61.00 L1103.53,60.00 L1103.67,59.00 L1103.81,58.00 L1103.96,57.00 L1104.10,56.00 L1104.25,55.00 L1104.39,54.00 L1104.54,53.00 L1104.69,52.00 L1104.84,51.00 L1104.99,50.00 L1105.14,49.00 L1105.30,48.00 L1105.45,47.00 L1105.61,46.00 L1105.77,45.00 L1105.92,44.00 L1106.08,43.00 L1106.25,42.00 L1106.41,41.00 L1106.57,40.00 L1106.74,39.00 L1106.90,38.00 L1107.07,37.00 L1107.24,36.00 L1107.41,35.00 L1107.58,34.00 L1107.75,33.00 L1107.92,32.00 L1108.10,31.00 L1108.27,30.00 L1108.45,29.00 L1108.63,28.00 L1108.81,27.00Z" fill="#440154"/><g transform="matrix(5.3131,4.2761,2.7661,-8.2136,1096.4,236.6)"><rect x="-0.1" y="2.0" width="0.2" height="1.9" fill="#d8a030" opacity="0.8"/><ellipse cx="-0.05" cy="3.97" rx="0.6" ry="0.5" fill="url(#spot3)"/><ellipse cx="0" cy="-3.6" rx="0.3" ry="0.25" fill="url(#spot3)"/></g></g>
<rect x="986.5" y="32.5" width="253" height="385" fill="none" stroke="#000" stroke-width="1.1"/>
<line x1="1036.50" y1="417.5" x2="1036.50" y2="422.4" stroke="#000" stroke-width="1.1"/>
<text transform="translate(1022.50,438.05) scale(1.0341,1)" font-size="15.40">−10</text>
<line x1="1096.40" y1="417.5" x2="1096.40" y2="422.4" stroke="#000" stroke-width="1.1"/>
<text transform="translate(1093.50,438.05) scale(0.8178,1)" font-size="15.40">0</text>
<line x1="1156.30" y1="417.5" x2="1156.30" y2="422.4" stroke="#000" stroke-width="1.1"/>
<text transform="translate(1148.50,438.05) scale(0.8762,1)" font-size="15.40">10</text>
<line x1="1216.20" y1="417.5" x2="1216.20" y2="422.4" stroke="#000" stroke-width="1.1"/>
<text transform="translate(1207.50,438.05) scale(0.9346,1)" font-size="15.40">20</text>
<line x1="986.5" y1="51.40" x2="981.6" y2="51.40" stroke="#000" stroke-width="1.1"/>
<text transform="translate(959.50,57.05) scale(0.9346,1)" font-size="15.40">20</text>
<line x1="986.5" y1="97.70" x2="981.6" y2="97.70" stroke="#000" stroke-width="1.1"/>
<text transform="translate(959.50,103.04) scale(0.8638,1)" font-size="15.62">15</text>
<line x1="986.5" y1="144.00" x2="981.6" y2="144.00" stroke="#000" stroke-width="1.1"/>
<text transform="translate(959.50,150.05) scale(0.8762,1)" font-size="15.40">10</text>
<line x1="986.5" y1="190.30" x2="981.6" y2="190.30" stroke="#000" stroke-width="1.1"/>
<text transform="translate(968.50,196.04) scale(0.8062,1)" font-size="15.62">5</text>
<line x1="986.5" y1="236.60" x2="981.6" y2="236.60" stroke="#000" stroke-width="1.1"/>
<text transform="translate(968.50,242.05) scale(0.8178,1)" font-size="15.40">0</text>
<line x1="986.5" y1="282.90" x2="981.6" y2="282.90" stroke="#000" stroke-width="1.1"/>
<text transform="translate(956.50,288.04) scale(0.9549,1)" font-size="15.62">−5</text>
<line x1="986.5" y1="329.20" x2="981.6" y2="329.20" stroke="#000" stroke-width="1.1"/>
<text transform="translate(947.50,335.05) scale(1.0341,1)" font-size="15.40">−10</text>
<line x1="986.5" y1="375.50" x2="981.6" y2="375.50" stroke="#000" stroke-width="1.1"/>
<text transform="translate(947.50,381.04) scale(0.9817,1)" font-size="15.62">−15</text>
<text transform="translate(1025.00,22.86) scale(1.1010,1)" font-size="17.60">η=0.1 rad, χ=0.5 rad</text>
<text transform="translate(1017.00,461) scale(1.0789,1)" font-size="14.7">Scattering vector</text>
<text transform="translate(1140.00,461) scale(0.9788,1)" font-size="14.7" font-style="italic">q</text>
<text transform="translate(1149.00,463.5) scale(0.9246,1)" font-size="10.3" font-style="italic">IP</text>
<text transform="translate(1163.00,461) scale(0.6129,1)" font-size="14.7">(</text>
<text transform="translate(1168.00,461) scale(1.0285,1)" font-size="14.7" font-style="italic">nm</text>
<text transform="translate(1192.00,455.5) scale(0.9975,1)" font-size="10.3">−</text>
<text transform="translate(1200.00,455.5) scale(0.8731,1)" font-size="10.3">1</text>
<text transform="translate(1206.00,461) scale(0.6129,1)" font-size="14.7">)</text>
<text transform="translate(22.5,328.00) rotate(-90) scale(1.0789,1)" font-size="14.7">Scattering vector</text>
<text transform="translate(22.5,205.00) rotate(-90) scale(0.9788,1)" font-size="14.7" font-style="italic">q</text>
<text transform="translate(25,196.00) rotate(-90) scale(0.9172,1)" font-size="10.3" font-style="italic">OOP</text>
<text transform="translate(22.5,169.00) rotate(-90) scale(0.6129,1)" font-size="14.7">(</text>
<text transform="translate(22.5,165.00) rotate(-90) scale(1.0775,1)" font-size="14.7" font-style="italic">nm</text>
<text transform="translate(17,141.00) rotate(-90) scale(0.9975,1)" font-size="10.3">−</text>
<text transform="translate(17,133.00) rotate(-90) scale(0.6985,1)" font-size="10.3">1</text>
<text transform="translate(22.5,126.00) rotate(-90) scale(0.6129,1)" font-size="14.7">)</text>
</svg></body></html>
